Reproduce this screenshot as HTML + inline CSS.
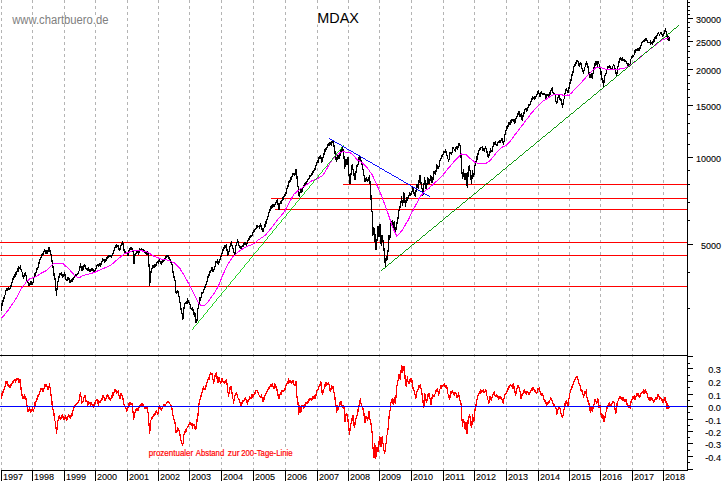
<!DOCTYPE html>
<html lang="de"><head><meta charset="utf-8"><title>MDAX</title>
<style>html,body{margin:0;padding:0;background:#fff;overflow:hidden}body{width:723px;height:481px}</style>
</head><body>
<svg width="723" height="481" viewBox="0 0 723 481" style="display:block">
<rect width="723" height="481" fill="#fff"/>
<g stroke="#b4b4b4" stroke-width="1" stroke-dasharray="3 3" shape-rendering="crispEdges">
<line x1="1.5" y1="0" x2="1.5" y2="470"/>
<line x1="32.5" y1="0" x2="32.5" y2="470"/>
<line x1="64.5" y1="0" x2="64.5" y2="470"/>
<line x1="95.5" y1="0" x2="95.5" y2="470"/>
<line x1="127.5" y1="0" x2="127.5" y2="470"/>
<line x1="158.5" y1="0" x2="158.5" y2="470"/>
<line x1="189.5" y1="0" x2="189.5" y2="470"/>
<line x1="221.5" y1="0" x2="221.5" y2="470"/>
<line x1="253.5" y1="0" x2="253.5" y2="470"/>
<line x1="285.5" y1="0" x2="285.5" y2="470"/>
<line x1="317.5" y1="0" x2="317.5" y2="470"/>
<line x1="348.5" y1="0" x2="348.5" y2="470"/>
<line x1="379.5" y1="0" x2="379.5" y2="470"/>
<line x1="411.5" y1="0" x2="411.5" y2="470"/>
<line x1="443.5" y1="0" x2="443.5" y2="470"/>
<line x1="474.5" y1="0" x2="474.5" y2="470"/>
<line x1="506.5" y1="0" x2="506.5" y2="470"/>
<line x1="538.5" y1="0" x2="538.5" y2="470"/>
<line x1="569.5" y1="0" x2="569.5" y2="470"/>
<line x1="600.5" y1="0" x2="600.5" y2="470"/>
<line x1="632.5" y1="0" x2="632.5" y2="470"/>
<line x1="663.5" y1="0" x2="663.5" y2="470"/>
</g>
<rect x="12" y="15.5" width="97" height="8.7" fill="#fff"/>
<rect x="316.5" y="9.5" width="43" height="15" fill="#fff"/>
<rect x="148" y="448.5" width="145" height="8.8" fill="#fff"/>
<g stroke="#ff0000" stroke-width="1" shape-rendering="crispEdges">
<line x1="343.3" y1="184.5" x2="687.0" y2="184.5"/>
<line x1="271.2" y1="198.5" x2="687.0" y2="198.5"/>
<line x1="274.9" y1="209.5" x2="687.0" y2="209.5"/>
<line x1="0" y1="242.5" x2="687.0" y2="242.5"/>
<line x1="0" y1="255.5" x2="687.0" y2="255.5"/>
<line x1="0" y1="286.5" x2="687.0" y2="286.5"/>
</g>
<polyline points="1.7,310.7 2.1,302.8 2.4,301.7 2.7,300.6 2.9,301.5 3.2,299.3 3.5,300.0 3.8,298.9 4.0,297.5 4.3,298.2 4.6,297.6 4.9,295.2 5.1,295.0 5.4,292.8 5.7,291.7 5.9,291.3 6.2,290.3 6.5,290.6 6.8,288.3 7.0,288.1 7.3,288.2 7.5,288.6 7.8,289.5 8.1,288.7 8.3,288.4 8.6,289.9 8.8,287.7 9.1,289.9 9.3,288.6 9.6,288.3 9.8,289.3 10.1,287.7 10.3,287.5 10.6,287.9 10.9,285.8 11.1,286.0 11.4,285.1 11.7,284.4 11.9,282.7 12.2,282.1 12.4,279.9 12.7,278.9 12.9,278.9 13.2,277.7 13.4,278.5 13.7,277.4 13.9,276.6 14.2,276.9 14.5,276.1 14.7,275.2 15.0,275.3 15.3,275.6 15.5,274.9 15.8,273.2 16.1,273.6 16.4,273.0 16.6,273.4 16.9,272.5 17.2,270.9 17.4,272.2 17.7,270.5 17.9,269.2 18.2,269.6 18.4,270.1 18.7,268.2 18.9,268.7 19.2,267.2 19.4,268.5 19.7,268.4 19.9,267.5 20.2,267.0 20.5,268.7 20.7,268.1 21.0,269.8 21.3,270.3 21.5,271.0 21.8,271.6 22.1,272.3 22.3,274.2 22.6,275.4 22.8,275.0 23.1,276.4 23.3,276.8 23.6,275.1 23.8,276.3 24.1,275.6 24.4,276.1 24.6,275.1 24.9,273.1 25.1,272.8 25.4,272.6 25.7,274.9 26.0,275.0 26.3,278.0 26.6,279.9 26.9,279.7 27.1,280.2 27.4,280.7 27.6,283.2 27.9,282.2 28.2,283.2 28.4,284.2 28.7,285.1 28.9,285.8 29.2,283.3 29.4,284.0 29.7,284.0 29.9,284.6 30.2,284.1 30.4,283.9 30.7,282.0 30.9,282.1 31.2,282.0 31.5,282.0 31.7,283.9 32.0,284.5 32.3,282.7 32.5,283.2 32.8,284.5 33.0,282.5 33.3,281.2 33.5,280.6 33.8,279.6 34.0,277.4 34.3,276.8 34.6,274.6 34.8,275.1 35.1,274.2 35.4,274.1 35.6,274.5 35.9,273.0 36.2,271.7 36.5,271.3 36.7,270.8 37.0,269.5 37.2,267.4 37.5,269.3 37.8,268.2 38.0,267.8 38.2,266.8 38.5,264.8 38.8,264.1 39.0,262.4 39.2,263.4 39.5,262.2 39.8,260.2 40.0,259.6 40.3,259.3 40.5,258.4 40.8,258.2 41.1,256.7 41.3,255.9 41.6,256.6 41.9,255.2 42.1,254.5 42.4,254.8 42.6,253.4 42.9,255.2 43.2,254.0 43.4,252.2 43.7,252.1 43.9,251.8 44.2,251.4 44.4,250.2 44.7,250.8 45.0,252.0 45.2,252.5 45.5,251.3 45.8,251.6 46.0,250.7 46.3,251.0 46.6,251.8 46.9,251.8 47.1,253.6 47.4,252.9 47.7,251.3 47.9,250.3 48.2,252.2 48.5,250.4 48.7,248.7 49.0,249.1 49.2,247.0 49.5,247.7 49.8,249.0 50.1,251.6 50.3,252.5 50.6,253.2 50.9,253.9 51.2,254.9 51.5,257.1 51.7,258.3 52.0,261.2 52.3,263.8 52.5,264.4 52.8,266.9 53.1,266.7 53.3,267.9 53.6,270.5 53.9,273.2 54.1,275.4 54.4,276.2 54.6,277.4 54.9,278.9 55.1,278.9 55.4,283.2 55.7,284.4 55.9,288.9 56.2,291.6 56.5,295.5 56.8,291.0 57.0,288.3 57.3,286.6 57.5,283.8 57.8,282.0 58.0,281.5 58.3,281.2 58.5,278.2 58.8,278.7 59.0,277.7 59.3,274.7 59.5,275.9 59.8,274.1 60.0,273.5 60.3,273.4 60.5,273.2 60.8,273.1 61.0,274.2 61.3,273.7 61.6,275.1 61.8,275.4 62.1,274.8 62.3,275.6 62.6,276.4 62.9,274.9 63.1,276.8 63.4,276.8 63.6,276.7 63.9,275.3 64.2,274.2 64.4,272.6 64.7,273.8 65.0,274.2 65.2,277.0 65.5,277.1 65.8,279.4 66.1,279.9 66.3,280.9 66.6,279.3 66.8,279.1 67.1,280.3 67.3,279.6 67.6,278.1 67.8,277.8 68.1,277.7 68.3,279.4 68.6,278.2 68.9,279.4 69.1,278.3 69.4,280.4 69.7,281.3 69.9,281.0 70.2,280.7 70.4,281.6 70.7,282.0 71.0,280.9 71.2,280.4 71.5,282.1 71.7,281.1 72.0,280.5 72.2,281.1 72.5,279.7 72.7,280.3 73.0,279.9 73.2,278.9 73.5,277.8 73.7,277.4 74.0,277.1 74.3,276.6 74.6,277.0 74.8,275.8 75.1,275.8 75.4,274.6 75.6,276.2 75.9,274.7 76.2,274.2 76.4,274.4 76.7,274.6 77.0,275.4 77.2,274.0 77.5,275.2 77.8,274.0 78.1,274.0 78.3,273.9 78.6,273.7 78.9,271.0 79.1,270.8 79.4,268.8 79.7,266.9 80.0,267.8 80.2,264.7 80.5,264.3 80.8,265.3 81.0,267.0 81.3,267.6 81.6,267.9 81.8,269.5 82.1,270.5 82.4,270.0 82.6,270.1 82.9,267.5 83.2,268.2 83.4,266.7 83.7,266.1 84.0,266.9 84.3,265.6 84.5,265.1 84.8,264.3 85.0,265.8 85.3,267.1 85.5,266.8 85.8,268.1 86.0,268.6 86.3,269.5 86.6,269.4 86.8,269.7 87.1,269.0 87.3,269.1 87.6,268.8 87.9,269.8 88.1,269.1 88.4,268.5 88.7,269.7 88.9,270.2 89.2,269.2 89.4,270.2 89.7,271.4 89.9,271.5 90.2,270.4 90.4,271.6 90.7,270.5 90.9,271.0 91.2,269.9 91.5,270.0 91.7,269.4 92.0,270.4 92.2,270.4 92.5,269.5 92.8,270.6 93.0,269.3 93.3,270.7 93.5,270.9 93.8,270.1 94.1,271.9 94.3,272.3 94.6,271.6 94.9,270.3 95.1,271.1 95.4,269.2 95.7,268.7 95.9,269.0 96.2,267.9 96.4,265.8 96.7,265.8 97.0,265.6 97.2,265.7 97.5,265.3 97.7,264.9 98.0,265.2 98.2,266.0 98.5,264.4 98.7,265.5 99.0,265.2 99.2,265.3 99.5,264.0 99.7,264.4 100.0,264.8 100.2,264.3 100.5,263.1 100.7,264.8 101.0,264.2 101.2,263.3 101.5,263.8 101.7,261.4 102.0,261.2 102.2,260.2 102.5,261.3 102.8,259.7 103.0,258.9 103.3,259.1 103.6,259.2 103.8,260.5 104.1,260.6 104.3,259.6 104.6,259.7 104.9,261.6 105.1,261.1 105.4,261.2 105.7,261.1 105.9,259.3 106.2,258.7 106.5,259.5 106.7,258.4 107.0,257.2 107.2,258.4 107.5,257.0 107.8,257.2 108.0,257.4 108.3,255.8 108.5,257.2 108.8,255.5 109.1,257.0 109.3,256.0 109.6,256.0 109.8,255.8 110.1,256.4 110.3,257.3 110.6,256.0 110.8,255.8 111.1,256.8 111.3,256.3 111.6,257.0 111.9,255.5 112.1,255.0 112.4,254.1 112.7,253.8 112.9,253.4 113.2,252.7 113.4,253.0 113.7,251.8 114.0,250.7 114.2,250.5 114.5,249.1 114.8,248.9 115.0,247.5 115.3,247.3 115.5,246.2 115.8,246.6 116.1,247.0 116.3,246.5 116.6,245.5 116.8,246.0 117.1,247.0 117.4,244.9 117.6,246.5 117.9,245.6 118.2,246.1 118.4,247.0 118.7,248.5 119.0,248.2 119.2,249.1 119.5,249.8 119.8,249.6 120.0,249.6 120.2,247.3 120.5,247.8 120.8,246.8 121.0,245.6 121.3,245.5 121.6,244.5 121.8,243.9 122.1,242.7 122.4,242.4 122.7,242.9 123.0,243.5 123.3,246.6 123.5,247.1 123.8,248.4 124.1,250.8 124.4,250.0 124.6,252.2 124.9,252.5 125.2,252.3 125.4,251.6 125.7,251.7 125.9,252.1 126.2,252.9 126.5,253.2 126.7,252.8 127.0,253.8 127.3,253.7 127.5,255.7 127.8,255.0 128.1,255.1 128.3,253.4 128.6,251.9 128.8,252.5 129.1,250.3 129.3,249.8 129.6,249.3 129.8,248.2 130.1,249.1 130.4,249.2 130.6,249.1 130.9,248.2 131.1,248.9 131.4,248.7 131.7,247.6 131.9,248.7 132.2,248.5 132.5,249.8 132.7,249.1 133.0,250.8 133.3,253.9 133.6,259.2 133.9,264.3 134.2,261.2 134.4,259.9 134.7,257.4 134.9,255.0 135.2,255.1 135.5,254.1 135.8,253.6 136.0,253.4 136.3,251.2 136.6,250.8 136.9,250.6 137.1,252.6 137.4,250.7 137.6,252.4 137.9,252.5 138.2,251.2 138.4,253.5 138.7,252.9 138.9,253.3 139.2,252.3 139.4,252.2 139.7,251.9 139.9,250.0 140.2,250.4 140.4,250.0 140.7,250.3 140.9,249.8 141.2,248.7 141.5,249.6 141.7,249.3 142.0,250.1 142.3,249.9 142.6,250.1 142.8,249.4 143.1,249.2 143.4,249.6 143.6,250.3 143.9,250.8 144.2,250.1 144.4,252.5 144.7,252.1 144.9,252.7 145.2,253.1 145.4,253.6 145.7,253.5 145.9,253.9 146.2,252.1 146.4,254.7 146.7,254.4 146.9,253.4 147.2,253.4 147.5,253.7 147.7,251.5 148.0,252.9 148.3,257.5 148.6,259.1 148.8,262.1 149.1,267.4 149.4,275.6 149.7,285.7 149.9,283.1 150.2,277.4 150.4,276.1 150.7,271.6 151.0,272.7 151.2,270.3 151.5,269.2 151.8,268.9 152.0,269.0 152.3,268.7 152.5,267.5 152.8,266.4 153.1,266.8 153.3,265.2 153.6,265.4 153.8,265.7 154.1,267.1 154.3,265.9 154.6,266.6 154.8,265.1 155.1,265.2 155.3,266.4 155.6,265.4 155.8,265.7 156.1,265.2 156.4,264.7 156.6,263.3 156.9,263.3 157.1,262.6 157.4,262.2 157.7,261.9 157.9,260.9 158.2,262.2 158.4,260.5 158.7,261.9 158.9,261.5 159.2,259.3 159.4,260.1 159.7,260.4 159.9,261.6 160.2,262.4 160.4,261.6 160.7,261.6 161.0,261.8 161.2,263.9 161.5,263.3 161.8,262.3 162.0,262.8 162.3,261.5 162.5,262.0 162.8,262.6 163.1,260.4 163.3,261.6 163.6,260.5 163.8,261.0 164.1,260.3 164.3,258.9 164.6,259.1 164.9,259.8 165.1,258.6 165.4,257.2 165.7,256.9 165.9,257.8 166.2,257.4 166.5,256.8 166.7,256.2 167.0,256.4 167.3,256.1 167.5,257.1 167.8,256.0 168.1,255.0 168.3,257.5 168.6,258.1 168.8,256.5 169.1,259.1 169.3,258.9 169.6,259.8 169.8,259.1 170.1,259.2 170.3,260.0 170.6,260.7 170.9,263.1 171.1,262.6 171.4,262.6 171.6,263.4 171.9,264.3 172.2,265.5 172.5,266.6 172.8,268.7 173.0,273.0 173.3,273.1 173.6,275.7 173.9,278.0 174.2,276.6 174.4,277.5 174.7,279.1 175.0,279.9 175.3,282.0 175.6,285.7 175.8,290.8 176.1,292.4 176.4,293.3 176.7,292.7 176.9,291.8 177.2,292.3 177.5,292.1 177.8,290.3 178.1,291.7 178.4,293.5 178.6,292.5 178.9,296.1 179.2,296.5 179.4,298.1 179.7,300.7 179.9,302.1 180.2,302.8 180.4,303.8 180.7,306.9 181.0,309.8 181.2,308.3 181.5,311.0 181.8,311.9 182.0,313.1 182.3,315.2 182.7,318.1 183.0,319.4 183.2,317.8 183.5,312.7 183.8,310.9 184.0,307.4 184.3,306.2 184.5,306.2 184.8,305.1 185.0,303.7 185.3,303.0 185.5,302.5 185.8,302.6 186.1,303.6 186.3,302.2 186.6,301.3 186.9,303.0 187.1,303.1 187.4,301.3 187.6,300.3 187.9,301.1 188.2,300.9 188.4,301.1 188.7,302.1 188.9,301.9 189.2,302.7 189.5,303.2 189.7,304.3 190.0,304.6 190.3,306.5 190.6,307.3 190.8,307.5 191.1,308.6 191.4,309.8 191.7,309.7 191.9,309.2 192.2,308.9 192.4,308.1 192.7,308.5 192.9,308.8 193.2,311.6 193.5,310.9 193.8,313.5 194.1,315.0 194.4,315.1 194.6,315.5 194.9,313.5 195.2,314.0 195.4,315.6 195.7,317.9 195.9,320.7 196.2,323.4 196.5,321.7 196.8,321.7 197.0,319.8 197.3,317.1 197.6,315.8 197.8,310.3 198.1,307.7 198.3,306.7 198.6,306.1 198.8,305.5 199.1,303.0 199.3,302.1 199.6,299.0 199.8,299.4 200.1,298.4 200.3,299.4 200.6,298.5 200.8,297.9 201.1,297.7 201.3,294.8 201.6,293.7 201.8,294.3 202.1,292.7 202.3,293.2 202.6,293.0 202.9,293.2 203.1,291.9 203.4,291.1 203.6,290.9 203.9,289.5 204.2,288.8 204.4,288.5 204.7,286.5 204.9,288.0 205.2,285.9 205.5,287.2 205.7,285.9 206.0,284.9 206.3,283.4 206.5,282.0 206.8,281.5 207.1,281.6 207.3,280.9 207.6,278.3 207.8,277.3 208.1,277.6 208.3,277.0 208.6,276.5 208.8,275.3 209.1,274.2 209.3,274.6 209.6,272.3 209.8,272.5 210.1,272.4 210.3,271.4 210.6,272.0 210.8,270.2 211.1,270.1 211.3,268.0 211.6,267.2 211.9,267.3 212.2,268.2 212.4,271.1 212.7,271.2 213.0,271.0 213.3,272.4 213.6,270.1 213.8,270.3 214.1,269.8 214.4,268.1 214.6,266.6 214.9,266.2 215.2,266.0 215.4,266.1 215.7,263.5 215.9,262.3 216.2,262.5 216.5,262.1 216.7,262.2 217.0,261.0 217.2,260.7 217.5,262.9 217.8,263.2 218.0,263.1 218.2,262.8 218.5,264.1 218.8,264.6 219.0,262.0 219.2,262.6 219.5,260.3 219.8,259.5 220.0,260.2 220.2,258.1 220.5,257.9 220.8,258.3 221.0,256.3 221.3,254.7 221.6,254.0 221.8,253.7 222.1,253.6 222.3,253.5 222.6,251.6 222.9,250.0 223.1,250.3 223.4,249.2 223.6,251.0 223.9,248.0 224.2,247.2 224.4,246.7 224.7,247.5 224.9,246.7 225.2,247.6 225.4,247.1 225.7,246.1 225.9,246.4 226.2,244.4 226.5,247.6 226.7,247.7 227.0,249.2 227.3,253.3 227.5,254.6 227.8,255.8 228.1,253.5 228.3,254.6 228.6,252.8 228.8,252.0 229.1,251.0 229.3,250.6 229.6,248.4 229.8,246.6 230.1,246.3 230.4,245.3 230.6,245.9 230.9,243.3 231.2,242.8 231.4,245.6 231.7,244.1 231.9,245.0 232.2,246.8 232.4,246.4 232.7,248.7 233.0,248.8 233.3,249.0 233.6,251.6 233.9,252.6 234.1,253.3 234.4,255.9 234.7,255.8 235.0,252.9 235.3,251.3 235.5,250.7 235.8,246.2 236.1,245.4 236.4,244.1 236.6,244.2 236.9,243.0 237.2,241.2 237.5,240.5 237.7,241.0 238.0,241.6 238.3,244.4 238.5,243.2 238.8,244.4 239.1,245.5 239.3,246.5 239.6,245.8 239.9,246.2 240.2,248.4 240.4,248.2 240.7,248.5 241.0,247.6 241.3,248.3 241.6,247.1 241.8,246.6 242.1,245.7 242.4,246.4 242.7,246.6 242.9,246.6 243.2,245.5 243.4,245.8 243.7,243.4 243.9,243.5 244.2,243.6 244.4,243.3 244.7,244.4 244.9,244.6 245.2,243.5 245.4,243.3 245.7,243.8 246.0,244.1 246.2,245.2 246.5,244.4 246.8,243.0 247.0,243.8 247.3,242.9 247.6,242.5 247.8,241.7 248.1,240.6 248.3,239.3 248.6,239.0 248.9,238.3 249.1,238.1 249.4,238.7 249.6,236.8 249.9,236.7 250.1,237.8 250.4,236.2 250.6,235.5 250.9,235.1 251.1,236.0 251.4,235.6 251.7,234.7 251.9,235.9 252.2,235.2 252.5,235.0 252.7,232.9 253.0,232.0 253.3,231.6 253.5,232.1 253.8,232.2 254.1,231.1 254.3,230.2 254.6,230.4 254.8,229.7 255.1,229.6 255.3,229.2 255.6,228.9 255.9,228.6 256.1,227.7 256.4,226.0 256.6,226.3 256.9,227.2 257.1,226.0 257.4,226.8 257.6,226.4 257.9,227.4 258.1,226.2 258.4,226.4 258.6,226.5 258.9,226.4 259.1,227.3 259.4,227.9 259.7,226.8 260.0,225.8 260.2,225.6 260.5,226.8 260.8,225.2 261.1,225.8 261.3,225.7 261.6,227.9 261.8,228.1 262.1,229.7 262.3,227.9 262.6,229.5 262.8,231.1 263.1,231.8 263.3,231.5 263.6,231.7 263.8,228.1 264.1,227.8 264.4,226.2 264.6,225.4 264.9,226.7 265.1,224.5 265.4,223.2 265.7,223.8 265.9,221.3 266.2,222.1 266.5,220.1 266.8,218.8 267.0,219.7 267.3,219.5 267.6,216.1 267.8,216.9 268.1,215.9 268.4,215.4 268.6,213.5 268.9,213.2 269.1,211.7 269.4,211.1 269.6,210.5 269.9,210.7 270.1,209.6 270.4,209.5 270.6,207.8 270.9,206.8 271.1,207.1 271.4,207.5 271.7,205.7 271.9,205.5 272.2,205.5 272.5,204.9 272.7,206.4 273.0,206.0 273.2,205.0 273.5,205.2 273.8,206.0 274.0,206.5 274.3,206.5 274.6,206.3 274.8,204.5 275.1,204.1 275.3,204.9 275.6,203.7 275.8,203.4 276.1,202.3 276.3,201.9 276.6,203.0 276.9,200.8 277.1,201.0 277.4,200.3 277.7,201.5 278.0,203.2 278.2,205.9 278.5,207.9 278.8,207.7 279.1,209.6 279.4,207.3 279.7,207.3 279.9,204.5 280.2,202.5 280.5,202.4 280.8,203.2 281.0,201.4 281.3,202.2 281.6,200.6 281.8,201.6 282.1,200.0 282.3,198.7 282.6,199.3 282.9,197.5 283.1,198.6 283.4,198.5 283.6,198.8 283.9,196.1 284.2,197.2 284.4,196.1 284.7,196.1 285.0,195.2 285.2,193.4 285.5,192.8 285.8,192.6 286.0,192.7 286.3,189.7 286.5,189.8 286.8,188.9 287.1,188.9 287.3,188.6 287.6,185.7 287.9,184.7 288.1,186.2 288.4,185.5 288.6,183.3 288.9,182.6 289.1,180.9 289.4,182.7 289.6,180.8 289.9,181.6 290.1,180.3 290.4,180.4 290.6,178.1 290.9,178.5 291.2,178.7 291.4,176.7 291.7,176.7 291.9,177.3 292.2,176.7 292.5,174.5 292.7,174.1 293.0,174.3 293.2,174.2 293.5,174.7 293.8,174.5 294.0,173.9 294.2,174.4 294.5,175.3 294.8,174.9 295.0,174.4 295.3,170.8 295.6,171.4 295.8,170.9 296.1,169.1 296.4,170.2 296.6,175.4 296.9,175.7 297.2,179.5 297.4,181.9 297.7,183.8 297.9,186.2 298.2,187.8 298.5,189.5 298.8,192.2 299.0,195.1 299.3,197.2 299.6,195.1 299.8,194.0 300.1,191.6 300.3,189.9 300.6,190.1 300.9,189.3 301.1,191.3 301.4,191.3 301.7,190.9 302.0,192.0 302.3,191.6 302.6,190.6 302.8,188.8 303.1,187.0 303.4,186.8 303.7,186.4 303.9,185.1 304.2,184.8 304.4,185.1 304.7,183.9 305.0,184.3 305.2,184.1 305.5,183.7 305.8,182.2 306.0,183.2 306.3,181.5 306.6,182.7 306.8,182.4 307.1,181.3 307.3,179.8 307.6,180.5 307.9,180.0 308.1,179.2 308.4,180.0 308.6,177.6 308.9,178.8 309.1,178.6 309.4,177.4 309.6,176.4 309.9,176.8 310.1,175.1 310.4,176.6 310.7,175.1 310.9,175.9 311.2,175.5 311.4,173.4 311.7,174.6 312.0,174.6 312.2,172.3 312.5,173.0 312.8,172.2 313.0,172.9 313.3,171.0 313.6,172.4 313.8,170.5 314.1,171.4 314.3,169.4 314.6,169.9 314.9,169.0 315.1,169.2 315.4,166.6 315.7,165.8 315.9,165.6 316.2,164.7 316.5,163.7 316.7,162.4 317.0,162.3 317.2,161.7 317.5,163.2 317.8,162.0 318.0,162.1 318.3,160.5 318.6,158.9 318.8,159.9 319.1,157.4 319.4,157.8 319.6,157.4 319.9,156.0 320.1,156.7 320.4,155.0 320.6,156.2 320.9,157.4 321.1,159.4 321.4,158.2 321.6,161.8 321.9,161.5 322.2,160.9 322.4,159.3 322.7,159.5 323.0,157.0 323.2,158.1 323.5,155.8 323.8,155.2 324.0,153.8 324.3,154.0 324.6,152.3 324.8,150.8 325.1,151.5 325.3,148.8 325.6,149.2 325.9,149.6 326.1,147.8 326.4,148.3 326.6,148.8 326.9,147.4 327.2,147.2 327.4,145.9 327.7,146.0 328.0,144.4 328.2,144.1 328.5,144.0 328.8,144.8 329.0,144.0 329.3,143.8 329.5,144.3 329.8,143.0 330.1,142.7 330.4,143.4 330.6,144.9 330.9,144.0 331.2,145.6 331.5,143.4 331.7,143.3 332.0,141.7 332.2,141.4 332.5,140.8 332.8,140.8 333.1,142.6 333.3,143.3 333.6,143.0 333.9,144.6 334.1,146.6 334.4,147.8 334.6,148.4 334.9,151.2 335.1,154.2 335.4,153.9 335.6,155.4 335.9,156.9 336.1,160.3 336.4,161.6 336.7,161.5 336.9,160.0 337.2,157.6 337.4,155.9 337.7,155.4 338.0,154.6 338.3,157.1 338.5,157.4 338.8,157.4 339.1,158.5 339.4,157.7 339.6,155.9 339.9,156.0 340.1,154.3 340.4,151.7 340.6,151.2 340.9,152.0 341.1,148.7 341.4,149.8 341.7,148.8 341.9,147.8 342.2,148.1 342.4,147.4 342.7,150.8 342.9,149.0 343.2,151.7 343.4,154.0 343.7,153.3 343.9,156.0 344.2,160.1 344.4,165.4 344.7,168.9 345.0,166.6 345.2,164.7 345.5,163.0 345.8,159.5 346.1,159.4 346.4,161.3 346.7,162.5 347.0,164.7 347.2,161.1 347.5,162.6 347.8,160.3 348.0,157.4 348.3,162.9 348.6,164.8 348.8,172.8 349.1,176.1 349.4,179.9 349.6,181.5 349.9,184.4 350.2,182.8 350.4,179.1 350.7,175.5 351.0,174.1 351.3,170.3 351.6,168.4 351.9,165.4 352.2,164.7 352.4,165.3 352.7,168.1 352.9,169.1 353.2,170.9 353.4,171.6 353.7,172.0 353.9,173.3 354.2,176.3 354.4,178.0 354.7,180.3 354.9,179.6 355.2,176.9 355.4,174.3 355.7,173.9 355.9,173.2 356.2,169.9 356.5,168.1 356.7,169.4 357.0,165.7 357.3,165.6 357.5,164.7 357.8,164.7 358.1,164.1 358.4,163.3 358.6,161.3 358.9,158.6 359.2,159.0 359.5,156.4 359.8,156.7 360.1,157.3 360.3,160.1 360.6,160.1 360.9,160.5 361.1,161.8 361.4,162.4 361.6,164.1 361.9,163.2 362.1,165.1 362.4,164.7 362.7,167.4 363.0,169.9 363.3,170.7 363.6,173.0 363.9,175.2 364.1,176.3 364.4,177.1 364.6,178.4 364.9,181.2 365.1,182.4 365.4,180.4 365.6,182.3 365.9,179.2 366.1,178.1 366.4,177.7 366.6,178.2 366.9,180.7 367.2,179.8 367.5,180.2 367.8,182.4 368.1,179.7 368.3,178.5 368.6,179.4 368.8,178.0 369.1,177.0 369.3,175.1 369.6,178.8 369.8,179.3 370.1,184.0 370.3,186.5 370.6,190.1 370.9,194.8 371.1,200.1 371.4,202.5 371.7,207.5 371.9,211.4 372.2,211.5 372.5,217.0 372.9,234.7 373.1,234.6 373.4,233.0 373.6,231.3 373.9,227.4 374.2,232.8 374.5,242.0 374.8,237.9 375.1,234.8 375.4,233.7 375.7,239.8 376.0,250.3 376.2,249.3 376.5,246.5 376.8,243.1 377.0,239.9 377.3,238.1 377.6,233.8 377.8,228.8 378.1,226.4 378.4,227.1 378.6,229.7 378.9,235.4 379.1,236.8 379.4,232.3 379.6,229.7 379.9,227.1 380.1,224.3 380.4,227.5 380.6,234.1 380.9,239.6 381.2,246.1 381.4,244.3 381.7,239.8 381.9,236.7 382.2,234.7 382.5,238.8 382.8,238.4 383.0,241.9 383.3,242.0 383.6,245.6 383.8,246.2 384.1,250.9 384.3,254.4 384.6,257.3 384.8,261.7 385.1,263.2 385.3,266.9 385.6,265.1 385.9,261.8 386.1,258.0 386.4,256.5 386.6,258.5 386.9,255.9 387.1,259.3 387.4,258.6 387.7,254.9 387.9,251.7 388.2,249.8 388.5,248.2 388.8,242.4 389.1,234.7 389.4,237.5 389.6,234.9 389.9,237.8 390.2,234.4 390.4,231.0 390.7,228.7 391.0,224.3 391.2,222.6 391.5,222.7 391.8,221.5 392.0,221.2 392.3,223.9 392.6,223.5 392.9,227.4 393.2,227.4 393.5,225.2 393.8,223.4 394.0,223.4 394.3,221.2 394.6,224.0 394.8,225.5 395.1,230.2 395.3,232.6 395.6,229.7 395.8,230.9 396.1,229.2 396.3,228.1 396.6,226.1 396.8,224.3 397.1,222.2 397.4,220.7 397.6,219.0 397.9,219.1 398.2,216.1 398.5,213.3 398.7,214.4 399.0,210.2 399.2,209.3 399.5,208.8 399.8,206.7 400.0,207.5 400.2,204.9 400.5,203.6 400.8,201.7 401.1,201.9 401.3,198.2 401.6,197.6 401.9,199.6 402.1,201.9 402.4,204.7 402.6,206.0 402.9,203.6 403.1,200.0 403.4,195.7 403.6,193.0 403.9,193.1 404.1,193.3 404.4,196.6 404.6,196.1 404.9,200.3 405.2,204.2 405.5,207.0 405.8,203.5 406.0,201.8 406.2,200.3 406.5,197.0 406.8,197.7 407.0,196.9 407.3,198.4 407.5,200.1 407.8,199.5 408.1,197.8 408.3,196.8 408.6,196.2 408.9,196.4 409.1,195.9 409.4,194.0 409.7,193.2 409.9,193.4 410.2,193.8 410.4,194.1 410.7,194.8 410.9,194.0 411.2,195.0 411.4,193.2 411.7,191.4 411.9,192.1 412.2,190.1 412.4,187.0 412.7,186.7 413.0,189.4 413.3,188.0 413.5,190.1 413.8,193.2 414.1,193.0 414.4,194.7 414.6,195.4 414.9,195.3 415.1,195.3 415.4,197.1 415.7,195.3 416.0,191.2 416.2,189.3 416.5,187.6 416.8,185.7 417.1,184.4 417.3,186.0 417.6,187.8 417.8,187.8 418.1,187.5 418.3,187.8 418.6,186.2 418.9,183.5 419.1,180.2 419.4,179.9 419.7,177.0 420.0,175.3 420.3,178.4 420.5,181.1 420.8,181.3 421.1,183.9 421.3,186.7 421.6,187.8 421.9,188.6 422.1,188.9 422.4,192.4 422.6,194.4 422.9,195.1 423.1,195.0 423.4,192.4 423.7,189.6 423.9,185.3 424.2,181.6 424.5,177.4 424.8,179.3 425.1,180.7 425.4,184.2 425.6,183.9 425.9,187.4 426.2,189.8 426.5,189.0 426.7,186.6 427.0,184.2 427.3,180.4 427.5,179.1 427.8,177.4 428.1,178.3 428.3,179.9 428.6,180.2 428.8,182.2 429.1,184.2 429.3,183.6 429.6,181.0 429.8,181.4 430.1,180.5 430.3,177.6 430.6,176.6 430.8,175.3 431.1,178.1 431.3,176.2 431.6,179.1 431.9,179.0 432.1,182.3 432.4,182.6 432.7,182.2 433.0,178.8 433.2,175.5 433.5,175.2 433.8,173.2 434.1,171.1 434.4,172.4 434.7,172.4 434.9,173.5 435.2,174.7 435.5,174.3 435.8,172.8 436.0,170.9 436.2,171.1 436.5,167.1 436.8,167.1 437.0,164.9 437.3,165.3 437.6,167.1 437.9,165.9 438.1,169.1 438.4,168.0 438.7,169.1 439.0,166.2 439.2,165.3 439.5,164.1 439.8,161.4 440.0,161.0 440.3,159.7 440.6,159.0 440.8,159.2 441.1,157.8 441.3,157.0 441.6,156.4 441.8,156.6 442.1,156.7 442.3,156.7 442.6,155.1 442.9,153.8 443.1,154.8 443.4,153.2 443.6,152.2 443.9,152.4 444.2,151.1 444.4,152.4 444.7,152.1 445.0,151.3 445.2,150.6 445.5,150.3 445.8,151.3 446.0,151.3 446.2,154.2 446.5,153.4 446.8,155.0 447.0,155.5 447.3,157.4 447.5,158.5 447.8,158.6 448.1,159.1 448.3,160.9 448.6,161.8 448.9,159.1 449.1,159.7 449.4,156.7 449.6,156.6 449.9,153.3 450.1,152.4 450.4,152.5 450.7,152.5 450.9,153.4 451.2,153.2 451.5,154.5 451.8,151.9 452.1,152.7 452.4,150.2 452.6,148.9 452.9,147.9 453.2,147.2 453.5,147.7 453.8,148.1 454.0,149.1 454.3,149.7 454.6,149.4 454.9,150.3 455.2,150.6 455.5,149.6 455.7,146.7 456.0,147.9 456.3,146.2 456.6,147.8 456.8,148.0 457.1,146.8 457.3,149.1 457.6,149.1 457.8,149.3 458.1,146.6 458.3,145.6 458.6,147.7 458.9,145.7 459.1,143.3 459.4,143.1 459.7,143.1 459.9,144.7 460.2,146.4 460.4,149.9 460.7,150.3 461.0,155.3 461.2,160.1 461.5,167.0 461.8,171.3 462.1,173.4 462.3,173.4 462.6,177.4 462.9,176.9 463.1,173.7 463.4,172.3 463.6,169.1 463.9,172.3 464.1,175.8 464.4,178.0 464.6,179.4 464.9,179.9 465.1,176.0 465.4,177.2 465.6,175.4 465.9,175.3 466.1,173.2 466.4,176.6 466.7,182.1 467.0,184.4 467.3,187.8 467.6,182.2 467.9,177.4 468.1,172.3 468.4,169.1 468.6,168.3 468.9,165.6 469.1,166.6 469.4,165.9 469.7,166.2 469.9,169.5 470.2,171.4 470.5,173.2 470.8,175.9 471.0,179.7 471.2,179.2 471.5,183.6 471.8,181.6 472.0,176.7 472.2,173.7 472.5,170.1 472.8,172.6 473.1,175.1 473.3,175.1 473.6,177.4 473.9,174.6 474.2,174.1 474.4,168.3 474.7,167.9 475.0,164.9 475.2,164.5 475.5,161.6 475.8,162.7 476.0,162.0 476.2,162.0 476.5,159.7 476.8,158.0 477.1,158.7 477.4,156.1 477.6,154.8 477.9,154.8 478.2,152.4 478.4,150.7 478.7,151.9 478.9,151.2 479.2,149.9 479.4,150.7 479.7,149.0 479.9,148.7 480.2,148.3 480.5,148.2 480.7,148.7 481.0,147.2 481.2,147.6 481.5,147.4 481.8,147.6 482.0,148.1 482.3,147.2 482.6,147.1 482.8,148.7 483.1,148.1 483.4,148.8 483.6,148.6 483.9,149.5 484.1,151.0 484.4,150.3 484.7,149.8 484.9,149.3 485.2,147.4 485.5,147.0 485.8,147.4 486.0,148.3 486.3,150.1 486.5,151.1 486.8,152.5 487.0,151.4 487.3,153.6 487.6,155.0 487.9,156.3 488.1,156.2 488.4,155.7 488.7,157.7 489.0,155.7 489.3,153.5 489.5,152.7 489.8,153.4 490.1,151.1 490.4,149.4 490.7,150.2 491.0,150.8 491.2,151.5 491.5,151.1 491.8,151.5 492.1,151.5 492.4,150.4 492.7,149.1 492.9,147.4 493.2,146.1 493.5,144.2 493.8,143.4 494.0,144.3 494.3,143.7 494.6,144.3 494.8,142.7 495.1,142.7 495.3,142.3 495.6,143.2 495.9,144.2 496.2,144.9 496.4,144.7 496.7,144.5 497.0,145.2 497.3,145.2 497.6,144.4 497.9,143.3 498.1,142.0 498.4,141.4 498.7,141.1 499.0,141.0 499.2,140.9 499.5,141.3 499.8,141.9 500.0,142.7 500.3,140.8 500.5,142.1 500.8,142.1 501.1,140.0 501.4,139.4 501.6,140.5 501.9,139.0 502.2,138.0 502.5,141.0 502.8,141.4 503.0,142.0 503.3,145.2 503.6,143.1 503.8,142.0 504.1,141.3 504.4,139.7 504.6,136.5 504.9,134.8 505.2,133.8 505.4,132.0 505.7,132.9 505.9,130.8 506.2,129.9 506.5,128.7 506.7,127.9 507.0,128.6 507.3,128.6 507.5,126.5 507.8,128.3 508.1,125.4 508.3,127.0 508.6,124.4 508.8,123.6 509.1,124.4 509.4,124.5 509.6,123.0 509.9,123.8 510.1,122.1 510.4,121.4 510.7,122.7 510.9,122.2 511.2,121.3 511.5,121.9 511.7,121.3 512.0,119.6 512.2,120.6 512.5,120.5 512.8,119.7 513.0,120.6 513.3,119.3 513.6,119.2 513.8,121.4 514.1,121.4 514.4,120.2 514.6,120.7 514.9,122.4 515.1,121.9 515.4,121.4 515.6,118.8 515.9,118.5 516.1,118.6 516.4,117.2 516.7,115.7 516.9,116.8 517.2,115.2 517.5,113.5 517.7,113.6 518.0,113.5 518.2,112.5 518.5,112.0 518.8,113.3 519.1,112.7 519.3,115.2 519.6,114.9 519.9,116.1 520.2,116.1 520.4,115.6 520.7,114.7 520.9,114.2 521.2,114.1 521.5,116.4 521.7,118.4 522.0,119.5 522.2,120.3 522.5,119.3 522.7,117.3 523.0,115.5 523.2,116.7 523.5,114.8 523.7,113.0 524.0,113.0 524.2,110.8 524.5,110.7 524.8,110.8 525.0,109.6 525.3,107.8 525.5,108.6 525.8,108.3 526.0,109.2 526.3,110.9 526.5,110.1 526.8,110.9 527.1,110.5 527.4,109.5 527.6,109.4 527.9,108.4 528.2,106.8 528.5,106.0 528.8,105.0 529.0,105.2 529.3,105.2 529.6,105.2 529.9,104.7 530.2,104.5 530.5,103.8 530.8,101.1 531.0,102.0 531.3,101.0 531.6,99.5 531.9,99.9 532.2,98.8 532.4,97.8 532.7,98.6 533.0,97.4 533.3,98.2 533.5,98.1 533.8,98.7 534.0,97.6 534.3,97.2 534.6,98.3 534.8,99.0 535.1,98.5 535.4,97.2 535.7,97.8 535.9,97.5 536.2,95.4 536.5,95.3 536.8,94.9 537.1,94.4 537.4,93.2 537.6,91.9 537.9,91.3 538.2,91.2 538.5,92.7 538.8,93.7 539.0,93.7 539.3,93.6 539.6,96.3 539.9,96.4 540.2,96.0 540.5,93.7 540.7,93.5 541.0,93.2 541.3,91.2 541.6,92.9 541.9,92.6 542.1,93.2 542.4,94.2 542.7,93.8 543.0,95.3 543.3,94.1 543.6,93.7 543.8,94.6 544.1,93.4 544.4,93.3 544.7,94.3 545.0,94.8 545.2,95.9 545.5,95.9 545.8,96.6 546.1,98.5 546.4,99.0 546.6,96.8 546.9,95.4 547.1,96.0 547.4,95.7 547.6,94.3 547.9,94.1 548.2,95.8 548.4,95.8 548.7,96.8 549.0,97.4 549.3,95.2 549.6,94.2 549.9,95.5 550.1,94.2 550.4,92.2 550.7,91.2 551.0,90.9 551.3,89.6 551.5,90.4 551.8,89.0 552.1,88.7 552.4,90.8 552.7,91.3 553.0,92.3 553.2,93.7 553.5,92.7 553.8,94.3 554.0,93.4 554.3,94.2 554.5,94.5 554.8,94.6 555.0,94.9 555.3,96.4 555.6,98.4 555.9,101.0 556.2,101.8 556.5,103.7 556.8,103.8 557.0,102.6 557.2,99.5 557.5,99.7 557.8,98.2 558.0,97.4 558.3,96.2 558.5,98.3 558.8,96.2 559.1,96.9 559.3,97.0 559.6,96.4 559.9,98.4 560.1,98.2 560.4,98.2 560.6,99.0 560.9,98.9 561.1,100.5 561.4,103.3 561.7,104.8 561.9,104.1 562.2,105.0 562.5,107.8 562.8,105.4 563.0,104.0 563.3,104.0 563.5,102.4 563.8,99.5 564.1,99.0 564.4,95.2 564.6,96.0 564.9,94.3 565.2,92.2 565.5,92.1 565.7,92.5 566.0,89.2 566.2,88.9 566.5,90.1 566.7,88.8 567.0,90.9 567.3,91.0 567.5,90.7 567.8,92.4 568.1,93.0 568.4,92.5 568.6,89.4 568.9,88.8 569.1,87.4 569.4,85.8 569.6,85.6 569.9,84.5 570.1,82.5 570.4,81.7 570.6,80.4 570.9,81.0 571.1,79.4 571.4,77.0 571.6,78.1 571.9,75.6 572.1,74.2 572.4,75.8 572.6,73.6 572.9,71.6 573.1,72.2 573.4,70.8 573.7,69.6 573.9,66.3 574.2,66.0 574.5,65.4 574.8,63.9 575.0,65.6 575.3,64.9 575.6,63.5 575.9,63.4 576.1,62.6 576.4,61.9 576.7,62.7 577.0,61.4 577.2,61.4 577.5,60.7 577.8,60.7 578.0,61.8 578.3,62.2 578.6,64.7 578.8,65.2 579.1,65.9 579.4,64.5 579.6,65.8 579.9,63.8 580.1,63.6 580.4,62.5 580.6,62.8 580.9,63.5 581.2,66.2 581.4,66.1 581.7,67.0 582.0,69.1 582.3,69.6 582.6,69.7 582.9,71.7 583.1,70.2 583.4,72.9 583.7,72.2 584.0,69.9 584.3,71.2 584.5,69.5 584.8,67.2 585.1,66.9 585.4,65.9 585.7,64.5 586.0,63.6 586.2,62.6 586.5,62.2 586.8,61.8 587.0,64.4 587.3,65.7 587.5,66.7 587.8,65.5 588.0,67.3 588.3,69.1 588.6,72.3 588.9,72.0 589.2,75.9 589.5,77.4 589.8,76.2 590.0,77.8 590.2,74.4 590.5,76.3 590.8,74.3 591.0,74.3 591.3,73.9 591.6,74.1 591.8,77.1 592.1,76.9 592.4,77.4 592.7,74.8 593.0,73.8 593.2,73.3 593.5,69.7 593.8,68.9 594.1,67.0 594.4,65.1 594.7,64.4 595.0,65.1 595.2,64.1 595.5,61.8 595.8,61.8 596.1,61.2 596.4,61.8 596.6,64.0 596.9,64.3 597.2,64.9 597.5,63.2 597.8,62.0 598.0,62.1 598.3,60.7 598.6,62.3 598.8,63.7 599.1,64.1 599.4,64.1 599.6,64.8 599.9,67.0 600.1,69.1 600.4,69.5 600.6,71.8 600.9,71.2 601.1,74.8 601.4,75.3 601.6,75.8 601.9,78.5 602.1,79.6 602.4,79.5 602.7,81.0 603.0,81.1 603.2,85.4 603.5,85.7 603.8,83.3 604.0,82.1 604.2,78.0 604.5,76.3 604.8,74.9 605.0,76.2 605.2,74.4 605.5,73.3 605.8,73.4 606.0,73.2 606.3,72.4 606.5,69.8 606.8,70.2 607.1,68.9 607.3,68.1 607.6,67.0 607.9,66.0 608.1,67.2 608.4,67.3 608.7,67.3 608.9,65.9 609.2,66.7 609.4,65.8 609.7,65.9 610.0,66.9 610.2,65.7 610.5,68.0 610.8,68.6 611.0,67.9 611.3,68.3 611.5,68.8 611.8,69.1 612.1,68.7 612.3,66.9 612.6,68.7 612.8,66.3 613.1,65.7 613.4,65.0 613.6,64.8 613.9,64.9 614.2,66.7 614.5,65.2 614.7,66.2 615.0,68.8 615.3,69.1 615.6,69.6 615.8,70.5 616.1,73.7 616.3,75.1 616.6,76.3 616.9,74.3 617.2,72.7 617.4,68.9 617.7,69.1 618.0,65.9 618.3,65.6 618.5,62.9 618.8,62.2 619.0,62.3 619.3,61.4 619.6,59.9 619.8,58.6 620.1,58.7 620.4,58.6 620.6,58.1 620.9,59.3 621.2,60.1 621.4,58.5 621.7,59.6 621.9,60.2 622.2,59.7 622.5,59.0 622.7,60.4 623.0,60.6 623.2,59.5 623.5,59.5 623.8,60.4 624.0,59.8 624.3,59.7 624.5,59.8 624.8,61.0 625.0,61.0 625.3,60.5 625.5,60.6 625.8,61.0 626.0,61.4 626.3,61.8 626.6,63.2 626.8,63.2 627.1,63.8 627.3,64.0 627.6,64.5 627.9,63.2 628.1,64.5 628.4,64.9 628.6,66.1 628.9,66.2 629.1,64.8 629.4,65.4 629.6,66.0 629.9,65.9 630.2,63.8 630.5,62.4 630.8,59.5 631.1,58.7 631.4,58.0 631.7,57.7 631.9,56.1 632.2,55.9 632.5,56.2 632.8,56.9 633.0,56.1 633.3,56.1 633.6,55.1 633.9,55.1 634.1,54.9 634.4,53.7 634.7,53.6 635.0,51.2 635.3,51.6 635.6,50.5 635.9,49.9 636.1,50.5 636.4,49.5 636.7,49.9 637.0,50.5 637.2,49.7 637.5,49.3 637.8,48.9 638.0,49.5 638.3,49.4 638.6,50.6 638.9,49.3 639.1,49.4 639.4,49.9 639.7,49.6 639.9,47.9 640.2,48.2 640.4,48.3 640.7,46.8 640.9,45.7 641.2,45.5 641.5,44.8 641.7,44.3 642.0,42.9 642.2,42.3 642.5,42.4 642.8,41.5 643.0,41.6 643.2,41.6 643.5,41.2 643.8,40.9 644.0,41.2 644.3,40.1 644.5,40.7 644.8,40.9 645.1,40.1 645.3,39.7 645.6,39.3 645.9,39.9 646.2,39.4 646.5,40.6 646.8,40.6 647.1,40.9 647.3,41.4 647.6,41.9 647.8,42.0 648.1,42.4 648.4,42.1 648.6,42.1 648.9,42.1 649.2,42.6 649.5,42.4 649.7,42.8 650.0,42.7 650.3,41.9 650.5,42.6 650.8,43.5 651.0,42.5 651.3,43.1 651.5,43.0 651.8,43.1 652.1,42.6 652.3,43.8 652.6,42.5 652.8,43.3 653.1,42.7 653.4,41.4 653.7,40.5 654.0,41.3 654.3,39.9 654.6,39.3 654.8,38.1 655.1,38.2 655.3,37.8 655.6,37.4 655.9,37.6 656.1,36.0 656.4,36.0 656.7,37.1 656.9,36.4 657.2,35.6 657.5,34.3 657.8,34.0 658.1,33.4 658.4,33.1 658.7,33.7 658.9,33.8 659.2,34.5 659.4,34.7 659.7,34.3 660.0,33.9 660.3,33.8 660.6,33.4 660.9,32.5 661.2,33.5 661.4,33.4 661.7,34.5 661.9,34.8 662.2,34.9 662.5,35.5 662.8,33.9 663.1,35.2 663.4,34.3 663.7,32.7 663.9,33.6 664.2,32.6 664.4,31.8 664.7,31.2 665.0,31.5 665.2,30.1 665.5,29.3 665.8,30.2 666.1,32.1 666.4,32.5 666.7,35.2 667.0,36.2 667.4,39.5 667.8,35.0 668.2,40.2 668.6,36.0 669.0,40.8 669.4,37.5 669.7,40.6" fill="none" stroke="#000" stroke-width="1.2" shape-rendering="crispEdges"/>
<polyline points="1.5,318.3 2.5,317.1 3.6,315.8 4.6,314.6 5.6,313.3 6.6,312.2 7.7,310.8 8.7,309.6 9.9,307.8 11.1,306.1 12.2,304.3 13.4,302.6 14.6,300.9 15.6,299.1 16.7,297.3 17.7,295.3 18.7,293.4 19.7,291.4 20.8,289.6 21.8,287.8 22.8,286.4 23.8,285.2 24.9,283.9 25.9,282.4 26.9,281.2 28.1,280.4 29.4,279.2 30.6,278.3 31.7,278.1 32.8,277.8 33.8,277.5 34.9,277.1 36.1,276.3 37.3,275.7 38.4,275.1 39.6,274.2 40.8,273.6 42.0,272.8 43.1,272.3 44.3,271.6 45.4,271.1 46.6,270.3 47.7,269.3 48.8,268.1 49.9,267.1 50.9,265.9 52.0,264.8 53.1,263.7 54.1,263.7 55.2,263.6 56.2,263.5 57.2,263.6 58.3,263.4 59.3,263.6 60.3,263.4 61.4,263.4 62.4,263.3 63.4,264.0 64.5,265.0 65.5,265.9 66.5,266.8 67.6,267.7 68.6,268.5 69.6,269.8 70.7,271.0 71.7,272.1 72.7,273.3 73.8,274.5 74.8,275.7 75.8,276.5 76.9,276.9 78.0,277.6 79.0,278.2 80.0,277.6 81.1,276.7 82.2,276.0 83.2,275.3 84.2,275.2 85.3,274.9 86.3,274.5 87.3,274.1 88.4,274.1 89.4,273.8 90.5,273.6 91.5,273.2 92.7,273.0 93.8,272.6 95.0,272.2 96.0,271.7 97.1,271.2 98.1,270.7 99.2,270.4 100.2,269.9 101.2,269.3 102.3,268.9 103.3,268.5 104.3,268.1 105.4,267.6 106.4,267.1 107.5,266.8 108.5,266.3 109.6,265.6 110.6,265.3 111.6,264.4 112.7,263.6 113.7,262.6 114.8,261.8 115.8,260.7 116.9,259.9 117.9,259.1 118.9,258.3 120.0,257.4 121.0,256.6 122.0,255.5 123.1,254.8 124.1,253.9 125.1,253.5 126.2,253.1 127.2,252.8 128.2,252.4 129.3,252.1 130.3,251.6 131.4,251.2 132.4,250.8 133.4,250.6 134.5,250.6 135.5,250.7 136.6,250.5 137.6,250.4 138.7,250.4 139.7,250.4 140.7,250.6 141.8,250.9 142.8,251.1 143.8,251.4 144.9,251.4 145.9,251.6 147.0,252.1 148.0,252.2 149.1,252.9 150.1,253.7 151.2,254.4 152.2,255.0 153.2,255.8 154.3,256.6 155.3,256.8 156.4,257.4 157.4,257.7 158.4,258.0 159.4,258.4 160.5,258.7 161.5,259.1 162.6,259.1 163.6,259.6 164.7,259.6 165.7,259.9 166.8,259.9 167.8,260.1 168.8,260.6 169.9,260.9 170.9,261.3 171.9,262.1 172.9,262.5 174.0,262.8 175.0,263.3 176.0,264.5 177.1,265.6 178.1,266.6 179.2,267.8 180.2,268.9 181.2,270.7 182.2,272.2 183.2,274.0 184.2,275.5 185.2,277.3 186.3,279.2 187.3,281.2 188.4,282.9 189.4,284.9 190.4,286.9 191.5,289.2 192.5,291.1 193.6,293.3 194.6,295.3 195.6,297.3 196.6,299.4 197.7,301.5 198.7,303.6 199.8,304.4 200.8,305.3 201.8,305.4 202.9,305.2 203.9,305.3 204.9,305.3 205.9,304.0 207.0,302.9 208.1,301.7 209.1,300.5 210.1,299.0 211.2,297.4 212.2,296.0 213.3,294.8 214.3,293.2 215.4,291.3 216.4,289.5 217.4,287.6 218.5,285.9 219.5,283.2 220.6,280.6 221.6,278.0 222.6,275.5 223.7,273.2 224.7,270.8 225.8,268.4 226.8,266.2 227.8,264.6 228.9,262.8 229.9,261.2 231.0,259.7 232.0,257.9 233.0,256.7 234.1,255.8 235.1,254.9 236.2,253.8 237.2,252.7 238.2,251.9 239.3,251.2 240.3,250.6 241.4,249.8 242.4,249.1 243.4,248.6 244.4,247.7 245.5,247.2 246.5,246.4 247.6,246.1 248.6,245.7 249.7,245.4 250.7,245.0 251.8,244.8 252.8,244.4 253.8,243.5 254.9,242.9 255.9,242.0 256.9,241.1 258.0,240.2 259.0,239.5 260.2,238.8 261.4,237.9 262.5,237.3 263.7,236.3 264.9,235.6 265.9,234.4 267.0,233.2 268.0,231.9 269.1,230.9 270.1,229.6 271.2,228.4 272.2,227.0 273.3,225.6 274.3,224.1 275.3,222.8 276.4,221.3 277.4,220.0 278.4,218.7 279.5,217.7 280.5,216.3 281.6,215.2 282.6,213.9 283.7,212.8 284.7,210.9 285.8,209.0 286.8,207.2 287.9,205.2 288.9,203.4 289.9,201.4 291.0,199.6 292.0,197.7 293.1,195.8 294.1,194.1 295.1,193.2 296.2,192.2 297.2,191.3 298.3,190.5 299.3,189.5 300.3,188.9 301.4,188.3 302.4,187.7 303.4,186.9 304.5,186.3 305.5,185.7 306.5,184.7 307.6,184.1 308.6,183.3 309.6,182.4 310.7,181.6 311.7,180.8 312.8,180.5 313.8,180.1 314.9,179.6 315.9,179.4 316.9,178.8 318.0,178.5 319.0,177.8 320.1,177.0 321.1,176.3 322.2,175.8 323.2,175.0 324.2,173.3 325.3,171.5 326.3,169.5 327.4,167.7 328.4,166.0 329.4,164.3 330.7,162.1 332.0,160.2 333.2,158.4 334.4,156.8 335.4,155.8 336.5,155.0 338.4,153.7 339.7,153.0 341.0,152.3 342.4,151.7 343.7,151.3 345.6,152.2 346.6,152.1 347.6,152.2 348.6,152.1 349.6,152.2 351.0,153.4 352.4,154.3 353.7,155.7 355.0,157.1 356.1,158.5 357.2,159.8 358.4,160.4 359.6,161.2 360.8,162.0 362.0,162.6 363.0,163.6 364.1,164.5 365.1,165.8 366.2,166.8 367.2,167.8 368.2,169.2 369.3,170.6 370.3,172.3 371.4,173.7 372.4,175.1 373.4,177.3 374.4,179.7 375.5,182.0 376.5,184.4 377.5,186.6 378.5,188.6 379.5,191.0 380.5,193.0 381.8,196.6 383.1,199.9 384.4,203.5 385.4,206.4 386.4,209.2 387.5,212.1 388.5,214.9 389.5,218.1 390.6,221.1 391.6,224.2 392.6,227.4 393.7,229.7 394.7,231.8 395.8,234.1 396.8,236.2 397.8,235.1 398.9,234.0 399.9,232.9 401.0,231.7 402.0,230.5 403.0,228.8 404.1,226.9 405.1,225.4 406.1,223.5 407.2,221.8 408.2,220.1 409.5,217.5 410.7,214.6 412.0,212.0 413.1,210.2 414.1,208.0 415.1,206.3 416.2,204.3 417.5,201.9 418.7,199.2 420.0,196.8 421.1,195.4 422.3,194.1 423.4,192.5 424.8,191.2 426.2,189.9 427.4,189.3 428.7,188.6 429.9,187.4 431.0,186.2 432.1,185.2 433.3,184.1 434.3,183.2 435.3,182.3 436.3,181.5 437.3,180.6 438.3,179.9 439.3,178.9 440.3,177.8 441.3,176.6 442.3,175.5 443.3,174.5 444.3,173.3 445.3,172.0 446.3,170.9 447.3,169.5 448.3,168.3 449.3,167.1 450.3,166.1 451.3,164.7 452.3,163.7 453.3,162.5 454.3,161.3 455.4,160.3 456.4,159.1 457.4,157.9 458.7,156.7 459.9,155.2 461.2,154.0 462.4,154.1 463.5,154.1 464.6,154.1 465.8,154.2 466.8,155.3 467.9,156.3 468.9,157.2 469.9,158.3 470.9,159.1 471.9,159.9 473.0,160.7 474.0,161.4 475.0,162.4 476.0,162.6 477.1,162.9 478.1,163.4 479.2,163.6 480.2,163.9 481.2,163.8 482.3,163.8 483.3,163.9 484.4,163.9 485.4,163.9 486.4,163.1 487.4,162.3 488.5,161.5 489.5,161.1 490.5,160.2 491.5,159.0 492.5,157.5 493.6,156.4 494.6,155.2 495.6,153.8 496.6,152.5 497.6,151.3 498.7,150.4 499.7,149.4 500.8,148.2 501.8,147.3 502.9,146.9 503.9,146.4 504.9,146.2 506.0,145.7 507.0,144.6 508.1,143.5 509.1,142.4 510.2,141.2 511.2,140.0 512.2,138.5 513.3,137.2 514.3,135.7 515.3,134.3 516.4,133.2 517.4,131.7 518.5,130.4 519.5,128.9 520.5,127.5 521.6,126.2 522.7,124.9 523.7,123.4 524.7,122.1 525.8,120.5 526.8,119.3 527.8,118.0 528.9,116.6 529.9,115.1 530.9,113.8 532.0,112.6 533.0,111.5 534.0,110.2 535.1,109.0 536.1,107.8 537.1,106.8 538.2,105.7 539.2,104.8 540.3,103.6 541.4,102.5 542.4,101.6 543.4,100.9 544.5,100.2 545.5,99.6 546.5,98.9 547.6,98.2 548.6,97.4 549.6,97.0 550.7,96.3 551.7,95.8 552.8,95.1 553.8,94.7 554.8,94.6 555.9,94.6 556.9,94.3 558.0,94.4 559.0,94.3 560.0,94.4 561.1,94.7 562.1,95.0 563.2,95.0 564.2,95.3 565.2,95.1 566.2,95.2 567.3,95.0 568.3,95.1 569.3,95.0 570.3,93.8 571.3,93.1 572.3,92.0 573.3,90.9 574.3,89.9 575.4,88.8 576.5,87.7 577.5,86.7 578.5,85.7 579.6,84.6 580.6,83.4 581.7,82.2 582.7,81.0 583.7,79.8 584.8,78.7 585.8,77.4 586.8,76.5 587.9,75.2 588.9,74.2 589.9,73.2 591.0,72.2 592.0,71.1 593.0,70.1 594.1,69.2 595.2,68.2 596.2,67.4 597.2,67.4 598.3,67.5 599.3,67.7 600.4,67.7 601.4,67.6 602.4,68.1 603.5,68.5 604.5,68.9 605.6,69.2 606.6,69.5 607.6,69.6 608.7,69.4 609.7,69.6 610.7,69.5 611.8,69.4 612.8,69.5 613.8,69.5 614.9,69.5 616.0,69.3 617.0,69.3 618.0,69.1 619.1,69.1 620.1,68.9 621.2,68.8 622.2,68.4 623.2,68.3 624.3,68.2 625.3,68.0 626.3,67.4 627.4,66.6 628.4,66.2 629.5,65.5 630.5,64.9 631.5,64.2 632.6,63.4 633.6,62.7 634.7,62.0 635.7,61.3 636.7,60.4 637.8,59.4 638.8,58.5 639.8,57.8 640.9,56.7 641.9,55.8 643.0,54.8 644.0,54.2 645.0,53.1 646.1,52.2 647.2,51.5 648.2,50.6 649.3,49.7 650.4,48.9 651.5,48.1 652.7,47.1 653.8,46.4 654.9,45.5 656.0,44.5 657.2,43.7 658.3,42.8 659.5,41.8 660.6,41.0 661.6,40.4 662.7,39.7 663.7,39.3 664.7,39.0 665.7,38.8 666.7,38.4 667.7,38.1 668.7,37.7" fill="none" stroke="#ff00ff" stroke-width="1.05" shape-rendering="crispEdges"/>
<g stroke-width="0.85" shape-rendering="crispEdges">
<line x1="192.2" y1="329.7" x2="343.7" y2="145.3" stroke="#00cc00"/>
<line x1="381.2" y1="270.8" x2="678.8" y2="25.4" stroke="#009400" stroke-width="0.95"/>
<line x1="329.0" y1="138.3" x2="430" y2="196.8" stroke="#0000ff" stroke-width="0.95"/>
</g>
<polyline points="1.7,399.5 2.1,393.3 2.4,393.5 2.6,391.2 2.9,393.1 3.2,391.8 3.4,389.6 3.7,391.1 3.9,389.3 4.2,389.1 4.5,387.3 4.7,388.5 5.0,386.5 5.2,386.2 5.5,383.6 5.7,384.3 6.0,381.6 6.2,381.8 6.5,381.5 6.7,382.3 7.0,381.7 7.2,383.6 7.5,383.0 7.8,383.6 8.0,385.0 8.3,384.9 8.6,385.0 8.8,386.3 9.1,386.0 9.4,386.8 9.6,386.4 9.9,387.5 10.1,387.6 10.4,387.0 10.7,385.7 10.9,386.2 11.2,384.7 11.4,384.9 11.7,384.1 12.0,383.8 12.2,381.7 12.5,381.8 12.8,381.4 13.0,382.0 13.3,382.3 13.6,381.7 13.8,380.3 14.1,381.3 14.3,380.1 14.6,380.8 14.8,380.8 15.1,381.2 15.3,379.6 15.6,381.2 15.9,380.5 16.1,379.6 16.4,379.3 16.6,379.8 16.9,379.3 17.1,379.7 17.4,378.8 17.7,378.3 17.9,378.3 18.2,378.9 18.4,380.0 18.7,381.8 18.9,382.4 19.2,380.6 19.4,381.4 19.7,380.6 19.9,381.5 20.2,380.8 20.5,383.1 20.8,385.1 21.1,389.6 21.4,391.2 21.6,392.5 21.9,394.1 22.1,395.6 22.4,397.2 22.6,396.0 22.9,398.5 23.2,397.7 23.4,396.8 23.7,397.5 24.0,398.2 24.2,397.6 24.5,396.4 24.8,395.5 25.0,396.2 25.2,398.3 25.5,398.3 25.8,397.9 26.0,398.5 26.2,400.2 26.5,401.3 26.8,404.8 27.0,405.7 27.3,407.0 27.6,409.8 27.8,410.7 28.1,412.0 28.4,410.3 28.7,410.3 28.9,409.4 29.2,410.5 29.5,408.9 29.8,409.7 30.0,409.1 30.3,410.0 30.5,411.1 30.8,412.0 31.1,411.3 31.4,410.9 31.6,409.9 31.9,409.2 32.2,408.9 32.5,408.4 32.8,410.6 33.0,410.8 33.3,412.0 33.6,409.3 33.9,409.0 34.1,408.9 34.4,405.0 34.7,404.7 35.0,403.1 35.3,403.8 35.5,402.0 35.8,401.3 36.1,401.2 36.4,400.5 36.7,399.2 36.9,399.4 37.2,398.6 37.5,399.1 37.7,398.6 38.0,395.4 38.2,396.1 38.5,395.3 38.8,395.1 39.1,394.6 39.3,393.5 39.6,392.3 39.9,391.2 40.2,391.0 40.5,389.8 40.8,389.1 41.0,389.9 41.3,389.5 41.6,388.1 41.9,389.6 42.1,389.5 42.4,389.2 42.7,390.8 42.9,391.2 43.2,391.2 43.5,390.4 43.7,389.8 44.0,388.3 44.2,387.9 44.5,386.6 44.7,386.0 45.0,384.7 45.2,385.2 45.5,385.0 45.7,386.5 46.0,385.0 46.2,384.9 46.5,385.4 46.7,385.9 47.0,386.8 47.3,388.0 47.5,388.2 47.8,390.1 48.1,387.7 48.4,389.5 48.6,387.4 48.9,386.5 49.2,386.0 49.5,384.9 49.8,386.1 50.1,387.5 50.3,389.1 50.6,391.7 50.9,394.3 51.1,395.4 51.4,398.6 51.6,399.7 51.9,402.8 52.1,402.4 52.4,404.7 52.7,408.4 53.0,409.2 53.3,409.3 53.6,413.0 53.9,413.1 54.1,416.1 54.4,419.1 54.6,418.0 54.9,421.0 55.1,421.3 55.4,423.3 55.7,427.3 55.9,426.6 56.2,430.4 56.5,432.8 56.8,432.1 57.0,427.9 57.3,425.7 57.5,422.8 57.8,422.4 58.0,420.3 58.3,419.5 58.5,419.9 58.8,417.3 59.0,416.8 59.3,416.1 59.6,415.9 59.9,417.7 60.1,419.1 60.4,419.1 60.7,419.3 61.0,417.8 61.3,418.5 61.5,418.4 61.8,416.8 62.1,414.7 62.4,415.1 62.7,416.5 62.9,417.4 63.2,416.8 63.5,417.0 63.7,417.9 64.0,419.3 64.2,418.9 64.5,419.2 64.8,418.0 65.0,418.2 65.2,415.9 65.5,416.1 65.8,416.5 66.1,418.4 66.3,419.0 66.6,419.2 66.9,420.3 67.2,419.9 67.5,418.2 67.8,416.6 68.0,416.6 68.3,414.9 68.6,415.1 68.9,415.9 69.2,415.7 69.4,416.6 69.7,417.4 70.0,417.1 70.3,418.2 70.6,417.3 70.9,415.3 71.1,416.8 71.4,415.0 71.7,414.0 72.0,414.5 72.2,411.7 72.5,412.4 72.8,412.0 73.0,410.4 73.3,409.2 73.5,408.7 73.8,408.9 74.0,407.4 74.3,408.1 74.5,405.8 74.8,406.8 75.0,405.2 75.3,404.7 75.6,404.6 75.8,404.6 76.1,404.3 76.4,404.4 76.6,404.1 76.9,403.7 77.2,402.8 77.4,403.6 77.7,401.8 78.0,402.7 78.2,402.4 78.5,402.1 78.7,400.4 79.0,400.5 79.2,399.9 79.5,399.0 79.8,396.2 80.0,394.4 80.2,393.6 80.5,392.2 80.8,396.1 81.1,396.3 81.4,398.6 81.7,402.6 82.0,402.2 82.2,402.4 82.5,402.3 82.7,400.8 83.0,402.3 83.2,400.5 83.5,399.1 83.7,399.8 84.0,397.3 84.3,396.5 84.5,396.1 84.8,396.4 85.0,396.1 85.3,397.8 85.5,398.6 85.8,398.4 86.0,400.8 86.3,400.5 86.6,400.9 86.8,401.1 87.1,401.9 87.4,403.8 87.6,404.9 87.9,404.7 88.2,403.6 88.4,403.0 88.7,404.3 88.9,402.7 89.2,404.0 89.4,402.6 89.7,402.7 89.9,403.2 90.2,402.7 90.5,403.8 90.7,403.2 91.0,403.1 91.2,404.4 91.5,403.7 91.8,403.4 92.0,405.2 92.3,404.3 92.6,406.1 92.8,406.1 93.1,406.8 93.3,407.1 93.6,404.8 93.8,405.4 94.1,404.5 94.3,405.1 94.6,403.7 94.9,404.2 95.1,402.9 95.4,401.5 95.7,401.0 95.9,400.5 96.2,400.4 96.4,399.4 96.7,399.5 97.0,399.7 97.3,401.7 97.5,402.3 97.8,402.4 98.1,403.7 98.4,404.4 98.7,402.2 98.9,402.6 99.2,401.2 99.5,401.6 99.8,402.2 100.1,402.1 100.3,400.5 100.6,401.4 100.9,401.4 101.2,400.5 101.5,399.4 101.7,398.8 102.0,398.5 102.2,398.8 102.5,396.5 102.8,397.0 103.0,396.2 103.3,395.3 103.6,395.7 103.8,396.5 104.1,397.8 104.3,396.7 104.6,398.8 104.9,398.1 105.1,399.6 105.4,399.5 105.7,399.9 105.9,397.7 106.2,398.8 106.5,398.6 106.7,396.4 107.0,395.2 107.2,394.9 107.5,395.3 107.8,397.0 108.0,395.2 108.3,397.9 108.5,396.6 108.8,398.5 109.1,397.5 109.3,398.2 109.6,399.5 109.8,399.7 110.1,398.0 110.3,398.3 110.6,399.4 110.8,398.7 111.1,398.8 111.3,398.8 111.6,397.4 111.9,395.8 112.1,395.8 112.4,396.5 112.7,395.8 112.9,393.8 113.2,394.3 113.4,393.2 113.7,393.3 114.0,392.6 114.2,391.4 114.5,390.7 114.7,392.2 115.0,390.2 115.2,390.1 115.5,391.6 115.7,390.2 116.0,391.7 116.3,391.3 116.5,392.6 116.8,393.3 117.0,392.2 117.3,393.1 117.5,391.4 117.8,392.5 118.0,391.6 118.3,391.2 118.6,392.0 118.9,394.5 119.2,396.7 119.5,398.5 119.8,398.8 120.0,396.4 120.2,395.1 120.5,396.3 120.8,395.2 121.0,393.3 121.3,394.8 121.6,394.3 121.8,394.9 122.1,395.9 122.4,397.4 122.7,397.5 123.0,398.7 123.2,401.1 123.5,402.0 123.8,403.6 124.1,404.7 124.4,404.9 124.7,404.4 124.9,406.7 125.2,407.2 125.5,407.4 125.8,407.8 126.1,408.5 126.4,409.5 126.6,410.9 126.9,411.2 127.2,410.9 127.5,410.1 127.8,408.2 128.1,406.8 128.4,405.8 128.7,404.7 129.0,405.8 129.2,404.1 129.5,403.9 129.8,403.8 130.0,402.9 130.3,403.7 130.6,405.2 130.8,402.2 131.1,404.0 131.4,405.0 131.6,403.0 131.9,404.0 132.1,403.3 132.4,403.7 132.7,406.9 132.9,410.7 133.2,414.3 133.5,419.3 133.8,418.8 134.1,417.2 134.3,416.1 134.6,412.2 134.9,412.0 135.2,412.2 135.5,410.8 135.8,411.4 136.0,410.7 136.3,409.7 136.6,409.9 136.9,410.7 137.1,408.3 137.4,409.6 137.6,409.6 137.9,408.6 138.2,408.5 138.4,409.1 138.7,407.8 138.9,406.9 139.2,407.3 139.4,407.1 139.7,406.0 139.9,406.3 140.2,405.3 140.4,405.1 140.7,404.7 141.0,404.9 141.2,405.0 141.5,404.4 141.8,404.9 142.0,404.8 142.3,404.2 142.5,404.9 142.8,404.7 143.1,404.6 143.3,406.3 143.6,405.8 143.9,406.7 144.1,406.7 144.4,407.0 144.6,406.8 144.9,407.8 145.2,406.8 145.4,409.0 145.7,407.9 145.9,407.9 146.2,407.9 146.5,408.7 146.7,407.0 147.0,407.8 147.3,407.9 147.6,411.4 147.8,411.4 148.1,413.3 148.4,414.0 148.7,419.1 148.9,423.3 149.2,427.2 149.4,428.2 149.7,433.8 149.9,430.5 150.2,429.3 150.4,426.4 150.7,422.4 150.9,420.2 151.2,419.4 151.4,418.9 151.7,417.5 151.9,417.5 152.2,417.2 152.5,417.8 152.7,416.7 153.0,416.3 153.2,415.0 153.5,415.6 153.8,417.0 154.0,415.9 154.3,415.1 154.6,414.4 154.8,414.0 155.1,414.3 155.3,413.7 155.6,411.5 155.8,412.4 156.1,411.1 156.3,410.9 156.6,411.7 156.8,411.6 157.1,412.7 157.3,413.3 157.6,414.1 157.8,415.1 158.1,412.4 158.3,411.5 158.6,411.1 158.9,408.4 159.1,407.3 159.4,406.8 159.7,407.7 159.9,407.0 160.2,407.5 160.4,407.7 160.7,409.6 161.0,408.1 161.2,409.9 161.5,409.9 161.8,410.3 162.0,408.1 162.3,408.1 162.6,408.5 162.8,407.6 163.1,406.4 163.3,405.1 163.6,405.7 163.9,405.5 164.1,405.2 164.4,405.8 164.6,404.8 164.9,404.9 165.2,405.3 165.4,405.5 165.7,404.7 166.0,403.9 166.2,403.6 166.5,403.6 166.8,403.9 167.0,401.8 167.3,403.1 167.5,402.1 167.8,401.2 168.1,401.2 168.3,402.2 168.6,401.7 168.8,401.4 169.1,403.4 169.3,402.8 169.6,403.5 169.8,403.7 170.1,404.2 170.3,405.8 170.6,405.9 170.9,404.5 171.1,406.5 171.4,406.7 171.6,407.2 171.9,407.8 172.2,410.6 172.5,411.0 172.8,412.9 173.0,415.9 173.3,416.3 173.6,418.2 173.9,419.0 174.2,419.9 174.4,421.7 174.7,422.1 175.0,422.4 175.3,425.7 175.6,427.3 175.8,428.8 176.1,432.8 176.4,432.6 176.7,431.6 176.9,431.5 177.2,430.8 177.5,428.2 177.8,428.6 178.1,428.4 178.4,428.6 178.6,431.4 178.9,429.9 179.2,431.7 179.4,431.7 179.7,434.9 179.9,435.5 180.2,435.2 180.4,438.3 180.7,439.0 180.9,440.4 181.2,440.5 181.4,440.0 181.7,442.7 181.9,442.6 182.2,443.9 182.4,446.0 182.7,445.2 183.0,444.1 183.2,442.2 183.5,437.9 183.7,436.4 184.0,434.8 184.3,434.2 184.5,432.1 184.8,434.3 185.1,431.6 185.3,430.9 185.6,430.4 185.8,429.5 186.1,429.6 186.3,430.2 186.6,429.0 186.8,428.5 187.1,427.8 187.3,426.5 187.6,426.8 187.8,427.9 188.1,426.5 188.4,426.7 188.6,426.4 188.9,424.7 189.1,424.1 189.4,423.3 189.7,424.0 189.9,423.2 190.2,423.0 190.5,423.3 190.7,423.7 191.0,424.3 191.3,424.1 191.6,425.4 191.8,424.5 192.1,425.5 192.4,426.4 192.6,425.4 192.9,424.0 193.1,424.5 193.4,424.9 193.7,424.4 193.9,424.7 194.2,424.4 194.5,424.8 194.7,425.6 195.0,427.8 195.3,427.3 195.5,429.3 195.8,429.6 196.1,428.2 196.4,425.2 196.6,422.5 196.9,420.3 197.2,420.7 197.4,418.0 197.7,418.4 197.9,416.1 198.2,411.2 198.4,409.0 198.7,405.7 199.0,404.9 199.2,401.8 199.5,403.1 199.7,399.4 200.0,399.5 200.3,398.7 200.6,396.5 200.8,397.6 201.1,395.5 201.4,394.3 201.7,394.1 202.0,392.2 202.2,391.7 202.5,390.7 202.8,388.6 203.1,388.1 203.4,387.6 203.6,389.6 203.9,388.0 204.2,390.4 204.5,388.7 204.7,388.7 205.0,390.1 205.3,387.8 205.5,388.5 205.8,387.7 206.1,385.1 206.3,384.5 206.6,382.9 206.9,381.8 207.1,382.9 207.4,381.8 207.6,379.9 207.9,379.2 208.2,380.2 208.4,378.1 208.7,378.7 209.0,378.9 209.2,376.7 209.5,375.8 209.8,376.0 210.0,374.6 210.3,374.5 210.5,372.6 210.8,372.9 211.1,374.4 211.4,373.0 211.7,374.7 211.9,373.0 212.2,375.2 212.5,374.6 212.8,378.3 213.0,378.9 213.2,380.2 213.5,383.9 213.8,382.1 214.1,381.4 214.3,378.7 214.6,378.2 214.9,376.6 215.2,374.7 215.4,375.3 215.7,375.5 215.9,373.9 216.2,374.1 216.4,372.9 216.7,373.6 216.9,377.4 217.2,377.1 217.4,381.3 217.7,381.8 218.0,382.3 218.3,381.3 218.5,379.4 218.8,378.0 219.1,377.7 219.3,378.2 219.6,380.1 219.8,380.3 220.1,382.3 220.3,380.9 220.6,382.9 220.9,382.3 221.1,382.7 221.4,381.6 221.7,380.9 221.9,379.4 222.2,379.8 222.5,379.4 222.7,380.0 223.0,381.9 223.2,382.1 223.5,381.1 223.8,383.1 224.0,381.4 224.3,382.9 224.6,382.8 224.8,383.5 225.1,381.4 225.3,382.7 225.6,381.6 225.8,380.8 226.1,380.1 226.3,381.7 226.6,382.7 226.9,382.8 227.1,384.9 227.4,384.9 227.7,387.1 227.9,392.0 228.2,393.7 228.5,397.4 228.8,394.1 229.1,393.9 229.3,390.5 229.6,390.1 229.9,388.1 230.2,388.8 230.4,388.0 230.7,387.3 230.9,385.7 231.2,387.0 231.5,389.1 231.8,389.9 232.0,393.7 232.3,394.2 232.6,397.4 232.9,398.7 233.1,399.1 233.4,400.2 233.7,401.6 234.0,400.9 234.2,398.2 234.5,397.0 234.8,398.0 235.0,395.0 235.3,394.3 235.6,395.0 235.8,394.9 236.1,393.7 236.3,392.7 236.6,392.4 236.8,393.3 237.1,395.3 237.4,394.4 237.6,396.4 237.9,397.6 238.2,398.5 238.5,398.3 238.8,399.8 239.1,399.8 239.3,401.3 239.6,401.9 239.9,402.6 240.2,403.2 240.4,403.7 240.7,405.1 240.9,406.2 241.2,404.8 241.4,403.8 241.7,403.3 241.9,404.0 242.2,402.4 242.4,401.6 242.7,402.3 243.0,400.1 243.2,402.1 243.5,400.8 243.8,401.3 244.1,400.5 244.4,400.3 244.6,400.3 244.9,398.9 245.2,399.8 245.4,398.0 245.7,398.5 245.9,398.9 246.2,399.2 246.4,400.9 246.7,402.0 246.9,402.4 247.2,403.7 247.5,403.9 247.7,401.5 248.0,401.9 248.2,400.5 248.5,400.7 248.8,400.4 249.0,399.6 249.3,398.5 249.6,397.4 249.8,397.6 250.1,398.3 250.3,399.0 250.6,396.8 250.8,397.9 251.1,398.0 251.3,397.4 251.6,397.8 251.8,396.5 252.1,397.3 252.4,396.3 252.6,397.0 252.9,394.8 253.1,396.5 253.4,395.3 253.7,394.7 253.9,394.3 254.2,393.3 254.4,393.2 254.7,393.8 255.0,393.3 255.2,391.9 255.5,392.2 255.8,391.5 256.0,390.7 256.2,390.5 256.5,390.2 256.8,390.1 257.0,390.1 257.3,391.6 257.5,392.2 257.8,392.3 258.1,392.2 258.3,392.8 258.6,393.3 258.9,394.6 259.2,395.6 259.5,395.9 259.7,396.3 260.0,396.1 260.3,397.4 260.6,397.5 260.9,397.8 261.1,397.5 261.4,395.6 261.7,396.4 261.9,397.8 262.2,397.8 262.4,398.2 262.7,401.0 262.9,401.1 263.2,401.6 263.5,400.9 263.8,398.1 264.1,398.5 264.4,396.4 264.6,397.0 264.9,396.4 265.1,395.5 265.4,395.2 265.6,394.6 265.9,393.3 266.2,393.0 266.4,392.1 266.7,392.5 266.9,391.9 267.2,391.5 267.5,389.7 267.7,390.7 268.0,389.1 268.2,388.8 268.5,389.3 268.8,387.1 269.0,388.6 269.2,387.8 269.5,386.2 269.8,387.2 270.0,386.0 270.3,385.1 270.5,384.8 270.8,385.1 271.1,384.4 271.3,384.7 271.6,385.4 271.8,384.6 272.1,383.9 272.4,385.1 272.7,385.1 273.0,386.6 273.2,387.4 273.5,387.8 273.8,388.1 274.1,388.5 274.4,387.6 274.6,386.0 274.9,384.5 275.2,384.9 275.5,386.0 275.8,387.1 276.0,386.6 276.3,387.9 276.6,389.2 276.9,389.1 277.2,391.4 277.4,390.9 277.7,393.7 278.0,395.3 278.2,394.9 278.5,395.9 278.8,398.5 279.0,398.5 279.3,397.3 279.6,396.7 279.8,395.3 280.1,394.0 280.4,393.3 280.7,392.4 280.9,392.4 281.2,393.3 281.4,392.5 281.7,391.5 282.0,390.8 282.2,390.9 282.5,391.2 282.8,391.5 283.0,390.8 283.3,391.2 283.6,391.3 283.8,389.7 284.1,390.8 284.3,389.2 284.6,390.1 284.9,389.9 285.1,387.7 285.4,387.0 285.6,387.6 285.9,385.5 286.1,384.9 286.4,383.8 286.6,384.7 286.9,383.6 287.2,383.6 287.4,382.1 287.7,381.8 287.9,381.6 288.2,382.4 288.4,381.3 288.7,382.2 288.9,380.3 289.2,380.8 289.4,381.8 289.7,380.6 289.9,381.6 290.2,380.8 290.4,381.4 290.7,383.3 290.9,382.5 291.2,382.9 291.5,383.3 291.7,381.8 292.0,381.8 292.2,381.0 292.5,381.7 292.8,382.1 293.0,381.1 293.3,380.8 293.6,381.3 293.9,383.8 294.1,384.6 294.4,384.8 294.7,383.9 295.0,386.0 295.2,385.1 295.5,383.2 295.8,383.5 296.0,380.8 296.3,385.5 296.6,391.8 296.9,396.4 297.1,398.2 297.4,398.5 297.6,400.4 297.9,401.6 298.2,406.8 298.4,412.3 298.7,415.1 299.0,411.6 299.3,407.7 299.6,404.7 299.9,408.2 300.2,406.8 300.5,411.4 300.8,412.0 301.1,410.7 301.4,408.5 301.7,406.4 302.0,404.7 302.3,405.7 302.6,406.4 302.9,406.3 303.1,406.7 303.4,405.3 303.7,406.8 304.0,406.0 304.2,405.2 304.5,406.7 304.8,406.2 305.0,404.0 305.3,404.7 305.5,404.3 305.8,403.7 306.1,402.5 306.3,403.0 306.6,403.4 306.9,402.9 307.1,402.0 307.4,402.6 307.6,401.4 307.9,401.6 308.1,401.3 308.4,400.7 308.6,401.4 308.9,400.4 309.1,400.3 309.4,399.6 309.6,398.6 309.9,398.5 310.2,399.5 310.4,399.2 310.7,399.3 310.9,398.6 311.2,398.5 311.5,399.4 311.7,400.0 312.0,399.5 312.3,399.6 312.6,398.1 312.9,397.1 313.1,397.5 313.4,397.8 313.7,396.4 314.0,396.1 314.3,397.8 314.5,396.9 314.8,397.7 315.1,398.5 315.4,396.2 315.6,395.6 315.9,394.6 316.1,394.7 316.4,393.5 316.6,391.2 316.9,390.1 317.2,390.1 317.5,391.2 317.7,389.1 318.0,389.0 318.3,389.1 318.6,388.2 318.8,386.6 319.1,386.3 319.4,386.0 319.6,385.3 319.9,384.9 320.1,385.8 320.4,383.4 320.6,382.9 320.9,384.5 321.1,382.8 321.4,382.5 321.6,386.7 321.9,389.3 322.1,393.0 322.4,395.3 322.6,393.7 322.9,392.2 323.1,393.0 323.4,391.1 323.6,390.3 323.9,389.1 324.2,388.5 324.4,387.7 324.7,385.4 325.0,384.6 325.2,385.1 325.5,382.9 325.8,383.2 326.1,382.9 326.4,384.0 326.6,383.4 326.9,384.9 327.2,384.5 327.4,383.3 327.7,385.1 327.9,384.4 328.2,383.7 328.4,385.1 328.7,383.9 329.0,384.6 329.2,385.8 329.5,386.6 329.8,388.9 330.0,390.5 330.3,391.2 330.6,390.8 330.8,389.2 331.1,389.4 331.3,386.8 331.6,386.4 331.8,386.0 332.1,386.6 332.4,387.7 332.6,387.0 332.9,387.3 333.2,387.0 333.5,389.3 333.7,389.6 334.0,392.7 334.2,393.6 334.5,394.3 334.8,395.6 335.0,397.6 335.2,400.8 335.5,401.6 335.8,403.9 336.1,406.2 336.3,411.4 336.6,413.0 336.9,411.0 337.1,408.9 337.4,407.4 337.6,404.7 337.9,407.3 338.1,406.2 338.4,408.1 338.6,409.9 338.9,407.1 339.1,406.6 339.4,405.3 339.7,403.7 340.0,404.2 340.3,403.3 340.5,402.6 340.8,401.8 341.1,401.6 341.4,402.7 341.6,402.6 341.9,405.3 342.1,406.0 342.4,407.0 342.6,406.8 342.9,405.1 343.2,406.3 343.5,406.0 343.8,404.7 344.1,409.1 344.4,414.8 344.6,419.2 344.9,422.4 345.1,421.1 345.4,419.3 345.6,416.6 345.9,414.0 346.1,415.6 346.4,413.0 346.6,415.3 346.9,415.5 347.1,415.3 347.4,415.1 347.6,416.6 347.9,418.3 348.1,422.4 348.4,424.4 348.6,428.0 348.9,428.9 349.1,431.3 349.4,434.8 349.6,432.1 349.9,429.9 350.1,430.2 350.4,429.5 350.6,427.2 350.9,424.4 351.1,422.9 351.4,423.1 351.6,419.8 351.9,420.3 352.2,420.4 352.4,417.6 352.7,415.5 352.9,416.6 353.2,415.1 353.4,417.1 353.7,420.6 353.9,423.1 354.2,427.6 354.4,426.2 354.7,425.3 354.9,425.0 355.2,421.2 355.4,422.6 355.7,420.3 356.0,417.9 356.3,417.3 356.5,417.6 356.8,415.6 357.1,415.1 357.4,413.3 357.6,412.8 357.9,410.5 358.1,411.0 358.4,408.9 358.7,406.4 359.0,406.5 359.2,404.7 359.5,402.3 359.8,400.5 360.1,399.9 360.3,402.7 360.6,401.3 360.8,403.3 361.1,403.8 361.3,404.7 361.6,403.9 361.9,406.1 362.2,406.9 362.5,406.8 362.8,408.2 363.0,408.9 363.2,410.4 363.5,411.8 363.8,412.0 364.0,414.0 364.2,417.1 364.5,419.6 364.8,421.1 365.0,422.4 365.2,423.0 365.5,420.1 365.8,421.3 366.0,417.6 366.2,418.0 366.5,417.2 366.8,416.8 367.1,418.6 367.4,420.1 367.7,420.3 367.9,419.4 368.2,417.0 368.4,415.1 368.7,413.1 368.9,412.2 369.2,410.9 369.4,412.5 369.7,414.6 369.9,418.7 370.2,420.3 370.5,421.9 370.8,423.2 371.0,423.8 371.3,426.5 371.6,429.6 371.8,430.0 372.1,432.7 372.3,435.9 372.6,440.6 372.8,445.7 373.1,449.4 373.4,454.3 373.6,456.1 373.9,457.7 374.2,455.0 374.5,450.0 374.8,443.2 375.1,448.0 375.3,451.9 375.6,453.1 375.8,458.8 376.1,455.2 376.3,452.1 376.6,453.5 376.8,450.6 377.1,447.3 377.4,448.8 377.6,448.5 377.9,449.9 378.1,451.5 378.4,447.7 378.6,446.8 378.9,445.4 379.1,441.1 379.4,439.0 379.7,436.7 380.0,436.9 380.2,438.3 380.5,441.6 380.8,446.2 381.0,447.3 381.3,446.3 381.5,443.0 381.8,439.6 382.0,437.6 382.3,436.9 382.6,437.9 382.8,442.7 383.1,443.8 383.3,446.3 383.6,449.4 383.8,450.3 384.1,451.1 384.3,451.1 384.6,453.6 384.8,453.6 385.1,450.1 385.3,447.9 385.6,447.5 385.8,445.2 386.1,443.2 386.4,439.9 386.6,438.0 386.9,435.0 387.2,434.8 387.5,433.9 387.7,430.7 388.0,429.1 388.2,426.7 388.5,422.4 388.8,419.6 389.0,418.1 389.2,414.2 389.5,412.0 389.8,411.5 390.1,410.0 390.3,406.0 390.6,405.7 390.9,402.9 391.2,402.3 391.4,402.3 391.7,400.3 392.0,399.5 392.3,399.1 392.5,402.6 392.8,403.5 393.0,403.6 393.3,404.7 393.6,401.3 393.8,402.4 394.1,399.3 394.3,397.4 394.6,397.5 394.9,399.9 395.1,402.6 395.4,403.7 395.7,401.4 396.0,396.3 396.3,393.3 396.6,389.1 396.9,386.2 397.2,384.5 397.5,385.0 397.8,381.8 398.1,380.1 398.3,377.9 398.6,378.6 398.8,375.5 399.1,374.6 399.3,374.6 399.6,375.8 399.8,377.5 400.1,379.0 400.3,379.8 400.6,377.8 400.8,374.2 401.1,370.2 401.3,369.7 401.6,366.2 401.9,365.9 402.2,368.7 402.5,369.7 402.8,371.4 403.1,371.0 403.3,370.1 403.6,367.3 403.8,367.8 404.1,366.2 404.4,370.0 404.6,372.4 404.9,374.3 405.1,378.7 405.4,382.2 405.6,383.2 405.9,383.4 406.2,387.0 406.5,383.8 406.8,384.0 407.1,379.1 407.4,377.7 407.7,378.4 407.9,380.6 408.2,381.7 408.4,382.2 408.7,382.9 409.0,383.2 409.3,380.8 409.5,380.5 409.8,382.6 410.1,380.8 410.4,381.2 410.6,378.7 410.9,378.3 411.1,378.4 411.4,378.7 411.7,381.5 412.0,381.3 412.2,384.1 412.5,386.5 412.8,387.0 413.1,388.5 413.4,390.3 413.6,389.5 413.9,390.2 414.2,390.8 414.5,393.3 414.8,395.1 415.1,394.2 415.3,397.9 415.6,398.1 415.9,398.5 416.2,395.8 416.4,395.7 416.7,392.1 417.0,391.2 417.3,390.5 417.5,388.8 417.8,389.9 418.1,389.4 418.3,388.8 418.6,387.0 418.9,385.2 419.1,387.3 419.4,386.1 419.6,386.6 419.9,385.3 420.1,384.9 420.4,386.3 420.7,387.3 420.9,388.9 421.2,387.8 421.5,390.1 421.8,390.9 422.0,394.9 422.3,396.3 422.5,398.9 422.8,401.6 423.1,401.3 423.3,405.6 423.6,404.5 423.8,407.8 424.1,405.7 424.4,402.2 424.6,397.5 424.9,394.3 425.2,394.7 425.5,398.1 425.7,398.3 426.0,400.7 426.3,402.6 426.6,400.0 426.8,401.8 427.1,399.1 427.3,397.2 427.6,395.1 427.8,395.3 428.1,395.9 428.3,396.1 428.6,395.9 428.9,393.3 429.1,394.0 429.4,394.3 429.7,395.5 430.0,398.5 430.2,398.5 430.5,401.5 430.8,404.4 431.1,404.7 431.4,403.9 431.6,400.2 431.9,398.8 432.1,397.3 432.4,397.4 432.6,395.3 432.9,395.8 433.1,395.7 433.4,395.7 433.7,395.8 433.9,396.5 434.2,396.4 434.4,395.9 434.7,395.7 434.9,394.4 435.2,393.7 435.4,393.1 435.7,391.2 436.0,391.7 436.2,391.0 436.5,389.0 436.8,390.2 437.0,390.3 437.3,389.1 437.6,389.8 437.8,391.8 438.1,390.9 438.3,393.7 438.6,393.3 438.8,394.3 439.1,393.7 439.3,391.7 439.6,390.7 439.8,389.8 440.1,388.7 440.3,388.1 440.6,386.8 440.8,387.3 441.1,388.2 441.4,387.1 441.6,387.3 441.9,386.0 442.2,386.3 442.5,386.2 442.8,386.3 443.0,385.5 443.3,384.3 443.6,384.5 443.9,384.4 444.2,385.3 444.4,384.9 444.7,385.9 445.0,387.0 445.3,387.6 445.6,387.3 445.9,385.5 446.1,386.3 446.4,385.9 446.7,384.9 446.9,387.5 447.2,388.9 447.4,389.7 447.7,390.1 447.9,393.6 448.2,394.3 448.5,395.1 448.8,397.2 449.1,397.8 449.4,399.5 449.7,398.1 449.9,397.9 450.2,394.2 450.4,393.7 450.7,392.2 451.0,392.4 451.2,392.0 451.5,392.7 451.8,391.3 452.0,392.3 452.3,391.2 452.6,392.2 452.9,393.3 453.1,391.8 453.4,392.6 453.7,393.3 454.0,394.3 454.3,394.8 454.6,392.4 454.8,392.5 455.1,393.1 455.4,392.2 455.7,394.3 456.0,393.1 456.2,394.6 456.5,396.1 456.8,397.0 457.1,397.4 457.4,397.5 457.6,397.0 457.9,395.2 458.1,394.8 458.4,393.7 458.6,394.3 458.9,396.1 459.2,395.9 459.4,397.3 459.7,400.6 460.0,400.5 460.2,401.6 460.5,402.0 460.8,402.9 461.0,403.0 461.4,409.9 461.7,416.1 462.0,420.3 462.2,422.3 462.5,426.5 462.8,423.3 463.1,421.8 463.4,420.1 463.7,420.3 464.0,421.5 464.2,422.3 464.5,423.9 464.7,426.9 465.0,428.6 465.2,428.8 465.5,426.2 465.8,423.1 466.0,422.4 466.3,426.3 466.6,426.9 466.8,429.4 467.1,433.8 467.4,429.7 467.6,426.7 467.9,424.4 468.1,420.3 468.4,419.0 468.6,419.1 468.9,415.6 469.1,417.7 469.4,414.5 469.6,414.0 469.9,417.1 470.1,415.9 470.4,420.7 470.6,421.3 470.9,422.0 471.1,425.6 471.4,427.0 471.6,427.6 471.9,425.3 472.1,421.1 472.4,417.2 472.7,416.1 472.9,416.6 473.2,420.7 473.4,419.6 473.7,422.4 474.0,420.4 474.2,417.5 474.5,415.2 474.8,412.0 475.1,409.2 475.3,407.2 475.6,405.2 475.8,404.7 476.1,404.9 476.4,401.9 476.6,401.4 476.9,400.0 477.2,398.5 477.5,397.0 477.7,395.7 478.0,394.8 478.2,396.0 478.5,394.3 478.8,392.8 479.1,394.1 479.3,392.1 479.6,392.3 479.9,391.2 480.2,390.6 480.5,392.1 480.8,391.2 481.0,391.6 481.3,392.1 481.6,392.2 481.9,391.0 482.1,391.0 482.4,391.8 482.6,390.3 482.9,390.2 483.1,390.1 483.4,391.4 483.7,390.7 483.9,391.3 484.2,392.0 484.5,393.3 484.8,392.2 485.0,391.3 485.3,391.2 485.5,389.9 485.8,389.1 486.1,391.6 486.4,390.7 486.6,394.0 486.9,395.9 487.2,396.4 487.4,396.8 487.7,397.4 487.9,399.9 488.2,400.1 488.4,402.4 488.7,403.7 489.0,402.5 489.3,398.8 489.6,397.0 489.9,396.4 490.1,397.0 490.4,396.9 490.6,397.7 490.9,399.0 491.1,398.7 491.4,400.5 491.7,398.1 492.0,397.7 492.2,396.7 492.5,396.7 492.8,394.3 493.1,394.0 493.3,392.5 493.6,392.4 493.8,393.2 494.1,392.2 494.4,393.2 494.7,394.7 494.9,395.8 495.2,396.4 495.5,396.4 495.8,395.4 496.1,396.9 496.4,395.9 496.6,395.1 496.9,394.8 497.2,395.3 497.4,396.6 497.7,395.8 497.9,396.0 498.2,396.9 498.4,398.9 498.7,398.5 499.0,398.1 499.2,398.3 499.5,396.6 499.8,397.0 500.0,396.4 500.3,396.4 500.6,396.2 500.8,397.8 501.1,397.6 501.3,397.6 501.6,400.1 501.8,399.5 502.1,400.1 502.4,400.0 502.6,400.2 502.9,402.3 503.2,402.6 503.5,401.4 503.7,399.0 504.0,398.8 504.2,398.2 504.5,396.4 504.8,395.9 505.1,394.5 505.3,394.5 505.6,394.2 505.9,393.3 506.1,393.1 506.4,391.4 506.6,392.4 506.9,392.2 507.1,391.2 507.4,390.1 507.7,390.3 508.0,388.8 508.2,389.4 508.5,387.4 508.8,387.0 509.1,387.0 509.4,386.9 509.6,387.2 509.9,385.4 510.2,385.4 510.4,384.8 510.7,385.4 510.9,385.5 511.2,385.1 511.5,385.4 511.7,386.7 512.0,386.6 512.2,386.6 512.5,387.3 512.8,385.9 513.0,386.3 513.3,384.6 513.6,385.4 513.9,387.6 514.1,387.1 514.4,388.8 514.6,390.1 514.9,391.2 515.1,393.0 515.4,392.7 515.6,394.7 515.9,394.3 516.2,393.1 516.5,390.5 516.7,390.5 517.0,388.1 517.3,386.8 517.6,388.4 517.8,386.4 518.1,385.2 518.4,385.4 518.6,387.7 518.9,386.8 519.1,388.0 519.4,388.8 519.6,390.7 519.9,391.2 520.2,391.8 520.5,394.5 520.8,395.8 521.1,398.5 521.4,398.5 521.6,395.5 521.9,396.2 522.1,394.4 522.4,394.0 522.6,393.3 522.9,393.0 523.2,393.0 523.4,391.2 523.7,391.0 524.0,391.2 524.3,390.7 524.6,392.9 524.9,391.5 525.1,391.8 525.4,393.0 525.7,393.3 526.0,393.1 526.2,393.4 526.5,391.4 526.8,391.4 527.0,390.9 527.3,391.2 527.5,391.9 527.8,392.1 528.0,392.6 528.3,394.1 528.5,394.1 528.8,394.3 529.0,394.7 529.3,394.5 529.5,392.8 529.8,393.8 530.0,392.4 530.3,392.2 530.6,390.8 530.8,392.0 531.1,389.8 531.4,389.1 531.6,389.2 531.9,389.1 532.2,388.5 532.5,389.7 532.8,389.3 533.0,388.3 533.3,388.3 533.6,388.1 533.9,389.5 534.2,390.0 534.4,390.3 534.7,390.6 535.0,391.2 535.2,390.8 535.5,391.4 535.8,392.6 536.0,392.8 536.2,393.5 536.5,393.3 536.8,393.2 537.1,392.2 537.4,389.5 537.7,389.1 538.0,388.0 538.2,389.6 538.5,388.8 538.7,387.7 539.0,388.7 539.2,388.1 539.5,388.8 539.8,390.0 540.0,391.5 540.3,393.1 540.6,394.3 540.9,394.5 541.2,393.0 541.5,394.3 541.7,393.9 542.0,393.4 542.3,393.3 542.6,394.7 542.9,396.1 543.1,395.2 543.4,397.4 543.7,398.9 544.0,399.5 544.3,400.4 544.6,400.7 544.8,400.0 545.1,402.2 545.4,401.6 545.7,403.1 546.0,402.8 546.3,404.1 546.6,405.2 546.9,405.5 547.1,403.3 547.4,403.1 547.6,403.6 547.9,402.0 548.1,402.9 548.4,401.4 548.6,402.5 548.9,401.7 549.1,402.4 549.4,402.0 549.7,402.1 549.9,400.2 550.2,399.9 550.4,399.4 550.7,399.0 550.9,398.0 551.2,398.5 551.5,398.4 551.8,399.7 552.0,400.4 552.3,400.4 552.6,402.1 552.9,402.6 553.1,404.2 553.4,403.8 553.6,403.8 553.9,405.2 554.1,405.0 554.4,405.7 554.7,405.3 555.0,406.5 555.2,405.8 555.5,407.8 555.8,407.8 556.1,408.6 556.3,410.6 556.6,413.5 556.9,414.0 557.2,413.4 557.5,412.3 557.8,410.5 558.1,408.9 558.4,409.1 558.6,409.1 558.9,409.6 559.1,407.4 559.4,408.7 559.6,407.8 559.9,408.3 560.2,409.2 560.4,411.8 560.7,412.2 561.0,413.0 561.3,415.0 561.5,416.1 561.8,416.4 562.0,416.3 562.3,418.2 562.6,415.6 562.9,415.8 563.1,415.1 563.4,412.6 563.7,412.0 564.0,409.5 564.2,408.1 564.5,407.4 564.7,407.7 565.0,404.5 565.2,404.7 565.5,402.9 565.8,401.9 566.1,402.2 566.4,400.5 566.7,403.6 567.0,402.2 567.2,404.1 567.5,406.8 567.8,406.7 568.0,405.5 568.2,401.9 568.5,401.6 568.8,399.5 569.1,398.3 569.3,396.1 569.6,394.7 569.9,393.3 570.2,392.5 570.5,391.2 570.8,390.0 571.0,389.3 571.3,388.9 571.6,389.1 571.9,387.2 572.1,387.7 572.4,387.0 572.6,385.0 572.9,385.5 573.1,383.9 573.4,383.7 573.6,382.2 573.9,381.8 574.2,380.4 574.4,381.5 574.7,379.8 575.0,379.6 575.2,378.0 575.5,377.9 575.7,378.9 576.0,377.8 576.2,377.7 576.5,377.7 576.7,376.0 577.0,376.8 577.2,375.6 577.5,377.6 577.8,377.2 578.0,379.7 578.3,380.8 578.6,380.9 578.9,382.9 579.1,384.0 579.4,384.8 579.7,384.9 580.0,385.3 580.2,385.9 580.5,388.4 580.7,389.2 581.0,390.1 581.3,389.6 581.6,390.2 581.8,391.6 582.1,390.8 582.4,392.2 582.7,393.8 583.0,394.2 583.2,395.5 583.5,397.4 583.8,396.2 584.1,395.4 584.3,394.8 584.6,392.1 584.9,392.2 585.2,392.6 585.4,391.1 585.7,391.1 585.9,391.8 586.2,391.2 586.5,393.6 586.7,395.2 587.0,397.8 587.2,398.5 587.5,398.4 587.7,399.4 588.0,401.0 588.2,400.6 588.5,401.0 588.7,402.6 589.0,403.5 589.3,406.7 589.5,408.5 589.8,409.9 590.1,410.9 590.4,411.4 590.6,410.1 590.9,407.9 591.1,407.1 591.4,406.8 591.6,408.8 591.9,408.1 592.1,411.0 592.4,412.0 592.6,409.7 592.9,408.3 593.1,408.4 593.4,406.2 593.6,407.1 593.9,404.7 594.2,404.7 594.5,402.5 594.7,400.7 595.0,399.5 595.3,399.5 595.6,400.4 595.8,401.2 596.1,401.6 596.3,403.5 596.6,403.7 596.9,402.9 597.2,402.7 597.4,400.1 597.7,399.2 598.0,399.5 598.3,401.2 598.5,403.6 598.8,405.0 599.1,407.8 599.4,407.8 599.7,405.9 600.0,405.7 600.3,405.7 600.6,408.8 600.9,412.6 601.2,416.0 601.5,418.2 601.8,417.0 602.0,416.4 602.3,417.0 602.5,416.2 602.8,414.0 603.0,416.5 603.3,416.9 603.5,420.2 603.8,422.4 604.0,421.6 604.3,419.3 604.5,417.4 604.8,418.9 605.0,417.5 605.3,415.1 605.6,412.8 605.9,412.4 606.2,411.5 606.5,409.9 606.8,408.7 607.0,407.4 607.2,408.4 607.5,407.8 607.8,406.2 608.0,405.7 608.3,404.3 608.6,404.6 608.8,403.5 609.1,405.2 609.4,403.7 609.6,403.3 609.9,404.3 610.1,405.8 610.4,405.0 610.6,405.4 610.9,406.8 611.2,404.9 611.4,404.3 611.7,404.4 611.9,404.2 612.2,402.6 612.5,401.6 612.8,401.4 613.0,402.7 613.3,401.6 613.6,401.6 613.9,402.5 614.1,403.3 614.4,405.0 614.6,408.4 614.9,407.5 615.1,409.9 615.4,411.1 615.7,413.6 616.0,412.1 616.2,410.3 616.5,408.1 616.7,404.7 617.0,403.9 617.2,404.4 617.5,402.9 617.7,401.4 618.0,401.1 618.2,400.5 618.5,400.5 618.7,400.0 619.0,398.1 619.3,397.7 619.5,399.0 619.8,397.4 620.1,396.8 620.4,398.4 620.6,397.6 620.9,397.6 621.2,397.8 621.5,398.5 621.8,398.4 622.0,399.4 622.2,397.9 622.5,399.1 622.8,398.2 623.0,398.5 623.3,398.2 623.5,399.6 623.8,399.2 624.1,399.2 624.3,400.0 624.6,400.5 624.9,401.0 625.1,401.0 625.4,400.4 625.6,399.2 625.9,400.6 626.1,400.0 626.4,401.3 626.7,403.1 626.9,404.3 627.2,404.2 627.5,405.7 627.8,406.7 628.1,406.9 628.4,405.9 628.6,406.4 628.9,406.7 629.2,407.2 629.5,406.7 629.8,406.6 630.0,405.9 630.3,406.6 630.6,403.8 630.9,403.0 631.2,399.9 631.5,399.2 631.7,399.2 632.0,399.2 632.2,398.4 632.5,397.4 632.8,396.6 633.0,398.0 633.3,397.5 633.6,397.8 633.8,396.9 634.1,396.2 634.4,397.4 634.7,398.3 635.0,397.9 635.3,399.1 635.6,398.4 635.8,396.9 636.1,396.8 636.3,394.4 636.6,394.1 636.9,394.3 637.2,394.0 637.5,395.2 637.7,394.3 638.0,395.5 638.3,394.9 638.6,395.9 638.8,396.3 639.1,395.2 639.3,397.1 639.6,396.6 639.9,396.4 640.2,395.7 640.5,395.0 640.8,394.1 641.1,392.9 641.3,394.1 641.6,393.2 641.8,392.7 642.1,392.4 642.4,391.7 642.7,392.1 643.0,391.7 643.3,390.8 643.6,391.9 643.9,391.0 644.2,391.7 644.5,392.4 644.8,391.2 645.0,390.2 645.2,389.9 645.5,389.6 645.8,389.5 646.0,392.1 646.3,391.8 646.6,393.3 646.9,393.2 647.2,394.1 647.4,396.3 647.7,396.0 648.0,397.4 648.3,397.5 648.5,397.6 648.8,398.6 649.1,398.2 649.4,399.3 649.7,398.3 650.0,399.1 650.3,399.1 650.6,399.6 650.8,398.7 651.1,399.3 651.3,398.8 651.6,398.2 651.9,398.5 652.2,400.1 652.5,400.2 652.8,400.7 653.0,400.3 653.3,401.6 653.5,402.4 653.8,402.1 654.1,401.4 654.3,400.6 654.6,399.7 654.9,399.1 655.2,399.5 655.5,398.7 655.7,397.5 656.0,397.5 656.3,397.4 656.6,397.2 656.8,398.6 657.1,398.2 657.4,397.9 657.7,396.4 658.0,397.2 658.3,394.8 658.6,394.9 658.9,396.0 659.1,396.6 659.4,398.1 659.6,398.6 659.9,398.2 660.2,397.2 660.5,397.7 660.8,397.4 661.1,398.7 661.3,399.3 661.6,399.0 661.9,399.9 662.2,399.9 662.5,401.4 662.7,402.0 663.0,401.4 663.3,402.4 663.6,402.3 663.8,401.6 664.1,399.4 664.4,398.6 664.6,398.2 664.9,398.9 665.1,399.3 665.4,398.2 665.7,399.1 665.9,401.0 666.2,403.2 666.5,405.7 666.9,409.1 667.2,408.0 667.4,405.0 667.7,404.1 668.0,405.6 668.3,406.8 668.6,408.2 668.9,408.5 669.1,407.2 669.4,407.9" fill="none" stroke="#ff0000" stroke-width="1.2" shape-rendering="crispEdges"/>
<line x1="0" y1="406.5" x2="687.0" y2="406.5" stroke="#0000ff" stroke-width="1" shape-rendering="crispEdges"/>
<g stroke="#000" stroke-width="1" shape-rendering="crispEdges">
<line x1="0" y1="355.5" x2="688.0" y2="355.5"/>
<line x1="687.5" y1="0" x2="687.5" y2="471"/>
<line x1="1" y1="470.5" x2="688.0" y2="470.5"/>
<line x1="1.5" y1="470" x2="1.5" y2="481"/>
<line x1="32.5" y1="470" x2="32.5" y2="481"/>
<line x1="64.5" y1="470" x2="64.5" y2="481"/>
<line x1="95.5" y1="470" x2="95.5" y2="481"/>
<line x1="127.5" y1="470" x2="127.5" y2="481"/>
<line x1="158.5" y1="470" x2="158.5" y2="481"/>
<line x1="189.5" y1="470" x2="189.5" y2="481"/>
<line x1="221.5" y1="470" x2="221.5" y2="481"/>
<line x1="253.5" y1="470" x2="253.5" y2="481"/>
<line x1="285.5" y1="470" x2="285.5" y2="481"/>
<line x1="317.5" y1="470" x2="317.5" y2="481"/>
<line x1="348.5" y1="470" x2="348.5" y2="481"/>
<line x1="379.5" y1="470" x2="379.5" y2="481"/>
<line x1="411.5" y1="470" x2="411.5" y2="481"/>
<line x1="443.5" y1="470" x2="443.5" y2="481"/>
<line x1="474.5" y1="470" x2="474.5" y2="481"/>
<line x1="506.5" y1="470" x2="506.5" y2="481"/>
<line x1="538.5" y1="470" x2="538.5" y2="481"/>
<line x1="569.5" y1="470" x2="569.5" y2="481"/>
<line x1="600.5" y1="470" x2="600.5" y2="481"/>
<line x1="632.5" y1="470" x2="632.5" y2="481"/>
<line x1="663.5" y1="470" x2="663.5" y2="481"/>
<line x1="688.0" y1="2.5" x2="690.0" y2="2.5"/>
<line x1="688.0" y1="6.5" x2="690.0" y2="6.5"/>
<line x1="688.0" y1="10.5" x2="690.0" y2="10.5"/>
<line x1="688.0" y1="14.5" x2="690.0" y2="14.5"/>
<line x1="688.0" y1="18.5" x2="693.0" y2="18.5"/>
<line x1="688.0" y1="22.5" x2="690.0" y2="22.5"/>
<line x1="688.0" y1="27.5" x2="690.0" y2="27.5"/>
<line x1="688.0" y1="31.5" x2="690.0" y2="31.5"/>
<line x1="688.0" y1="36.5" x2="690.0" y2="36.5"/>
<line x1="688.0" y1="41.5" x2="693.0" y2="41.5"/>
<line x1="688.0" y1="46.5" x2="690.0" y2="46.5"/>
<line x1="688.0" y1="51.5" x2="690.0" y2="51.5"/>
<line x1="688.0" y1="57.5" x2="690.0" y2="57.5"/>
<line x1="688.0" y1="63.5" x2="690.0" y2="63.5"/>
<line x1="688.0" y1="69.5" x2="693.0" y2="69.5"/>
<line x1="688.0" y1="75.5" x2="690.0" y2="75.5"/>
<line x1="688.0" y1="83.5" x2="690.0" y2="83.5"/>
<line x1="688.0" y1="89.5" x2="690.0" y2="89.5"/>
<line x1="688.0" y1="97.5" x2="690.0" y2="97.5"/>
<line x1="688.0" y1="105.5" x2="693.0" y2="105.5"/>
<line x1="688.0" y1="114.5" x2="690.0" y2="114.5"/>
<line x1="688.0" y1="123.5" x2="690.0" y2="123.5"/>
<line x1="688.0" y1="133.5" x2="690.0" y2="133.5"/>
<line x1="688.0" y1="144.5" x2="690.0" y2="144.5"/>
<line x1="688.0" y1="157.5" x2="693.0" y2="157.5"/>
<line x1="688.0" y1="170.5" x2="690.0" y2="170.5"/>
<line x1="688.0" y1="184.5" x2="690.0" y2="184.5"/>
<line x1="688.0" y1="202.5" x2="690.0" y2="202.5"/>
<line x1="688.0" y1="220.5" x2="690.0" y2="220.5"/>
<line x1="688.0" y1="244.5" x2="693.0" y2="244.5"/>
<line x1="688.0" y1="272.5" x2="690.0" y2="272.5"/>
<line x1="688.0" y1="308.5" x2="690.0" y2="308.5"/>
<line x1="688.0" y1="356.5" x2="693.0" y2="356.5"/>
<line x1="688.0" y1="363.5" x2="690.0" y2="363.5"/>
<line x1="688.0" y1="368.5" x2="693.0" y2="368.5"/>
<line x1="688.0" y1="375.5" x2="690.0" y2="375.5"/>
<line x1="688.0" y1="381.5" x2="693.0" y2="381.5"/>
<line x1="688.0" y1="387.5" x2="690.0" y2="387.5"/>
<line x1="688.0" y1="394.5" x2="693.0" y2="394.5"/>
<line x1="688.0" y1="400.5" x2="690.0" y2="400.5"/>
<line x1="688.0" y1="406.5" x2="693.0" y2="406.5"/>
<line x1="688.0" y1="412.5" x2="690.0" y2="412.5"/>
<line x1="688.0" y1="419.5" x2="693.0" y2="419.5"/>
<line x1="688.0" y1="425.5" x2="690.0" y2="425.5"/>
<line x1="688.0" y1="431.5" x2="693.0" y2="431.5"/>
<line x1="688.0" y1="437.5" x2="690.0" y2="437.5"/>
<line x1="688.0" y1="443.5" x2="693.0" y2="443.5"/>
<line x1="688.0" y1="450.5" x2="690.0" y2="450.5"/>
<line x1="688.0" y1="456.5" x2="693.0" y2="456.5"/>
<line x1="688.0" y1="462.5" x2="690.0" y2="462.5"/>
<line x1="688.0" y1="469.5" x2="693.0" y2="469.5"/>
</g>
<g font-family="Liberation Sans, Arial, sans-serif" font-size="9.7px" fill="#000" stroke="#000" stroke-width="0.1">
<text x="2.9" y="480" textLength="20.2" lengthAdjust="spacingAndGlyphs">1997</text>
<text x="33.9" y="480" textLength="20.2" lengthAdjust="spacingAndGlyphs">1998</text>
<text x="65.9" y="480" textLength="20.2" lengthAdjust="spacingAndGlyphs">1999</text>
<text x="96.9" y="480" textLength="20.2" lengthAdjust="spacingAndGlyphs">2000</text>
<text x="128.9" y="480" textLength="20.2" lengthAdjust="spacingAndGlyphs">2001</text>
<text x="159.9" y="480" textLength="20.2" lengthAdjust="spacingAndGlyphs">2002</text>
<text x="190.9" y="480" textLength="20.2" lengthAdjust="spacingAndGlyphs">2003</text>
<text x="222.9" y="480" textLength="20.2" lengthAdjust="spacingAndGlyphs">2004</text>
<text x="254.9" y="480" textLength="20.2" lengthAdjust="spacingAndGlyphs">2005</text>
<text x="286.9" y="480" textLength="20.2" lengthAdjust="spacingAndGlyphs">2006</text>
<text x="318.9" y="480" textLength="20.2" lengthAdjust="spacingAndGlyphs">2007</text>
<text x="349.9" y="480" textLength="20.2" lengthAdjust="spacingAndGlyphs">2008</text>
<text x="380.9" y="480" textLength="20.2" lengthAdjust="spacingAndGlyphs">2009</text>
<text x="412.9" y="480" textLength="20.2" lengthAdjust="spacingAndGlyphs">2010</text>
<text x="444.9" y="480" textLength="20.2" lengthAdjust="spacingAndGlyphs">2011</text>
<text x="475.9" y="480" textLength="20.2" lengthAdjust="spacingAndGlyphs">2012</text>
<text x="507.9" y="480" textLength="20.2" lengthAdjust="spacingAndGlyphs">2013</text>
<text x="539.9" y="480" textLength="20.2" lengthAdjust="spacingAndGlyphs">2014</text>
<text x="570.9" y="480" textLength="20.2" lengthAdjust="spacingAndGlyphs">2015</text>
<text x="601.9" y="480" textLength="20.2" lengthAdjust="spacingAndGlyphs">2016</text>
<text x="633.9" y="480" textLength="20.2" lengthAdjust="spacingAndGlyphs">2017</text>
<text x="664.9" y="480" textLength="20.2" lengthAdjust="spacingAndGlyphs">2018</text>
<text x="701.1" y="249.15" textLength="20" lengthAdjust="spacingAndGlyphs">5000</text>
<text x="696.1" y="162.15" textLength="25" lengthAdjust="spacingAndGlyphs">10000</text>
<text x="696.1" y="110.15" textLength="25" lengthAdjust="spacingAndGlyphs">15000</text>
<text x="696.1" y="74.15" textLength="25" lengthAdjust="spacingAndGlyphs">20000</text>
<text x="696.1" y="46.15" textLength="25" lengthAdjust="spacingAndGlyphs">25000</text>
<text x="696.1" y="23.15" textLength="25" lengthAdjust="spacingAndGlyphs">30000</text>
<text x="708.2" y="372.6" font-size="9.9px" textLength="12.8" lengthAdjust="spacingAndGlyphs">0.3</text>
<text x="708.2" y="385.6" font-size="9.9px" textLength="12.8" lengthAdjust="spacingAndGlyphs">0.2</text>
<text x="708.2" y="398.6" font-size="9.9px" textLength="12.8" lengthAdjust="spacingAndGlyphs">0.1</text>
<text x="708.2" y="410.6" font-size="9.9px" textLength="12.8" lengthAdjust="spacingAndGlyphs">0.0</text>
<text x="705.2" y="423.6" font-size="9.9px" textLength="15.8" lengthAdjust="spacingAndGlyphs">-0.1</text>
<text x="705.2" y="435.6" font-size="9.9px" textLength="15.8" lengthAdjust="spacingAndGlyphs">-0.2</text>
<text x="705.2" y="447.6" font-size="9.9px" textLength="15.8" lengthAdjust="spacingAndGlyphs">-0.3</text>
<text x="705.2" y="460.6" font-size="9.9px" textLength="15.8" lengthAdjust="spacingAndGlyphs">-0.4</text>
</g>
<text x="12.2" y="24.2" font-family="Liberation Sans, Arial, sans-serif" font-size="12.3px" fill="#808080" textLength="96.3" lengthAdjust="spacingAndGlyphs">www.chartbuero.de</text>
<text x="317.3" y="23.1" font-family="Liberation Sans, Arial, sans-serif" font-size="15.3px" fill="#000" textLength="41.6" lengthAdjust="spacingAndGlyphs">MDAX</text>
<text y="455.8" font-family="Liberation Sans, Arial, sans-serif" font-size="8.8px" fill="#ff0000" stroke="#ff0000" stroke-width="0.2"><tspan x="148.8" textLength="44.4" lengthAdjust="spacingAndGlyphs">prozentualer</tspan> <tspan x="195.8" textLength="28.4" lengthAdjust="spacingAndGlyphs">Abstand</tspan> <tspan x="227.7" textLength="11.8" lengthAdjust="spacingAndGlyphs">zur</tspan> <tspan x="241.2" textLength="51.4" lengthAdjust="spacingAndGlyphs">200-Tage-Linie</tspan></text>
</svg>
</body></html>
